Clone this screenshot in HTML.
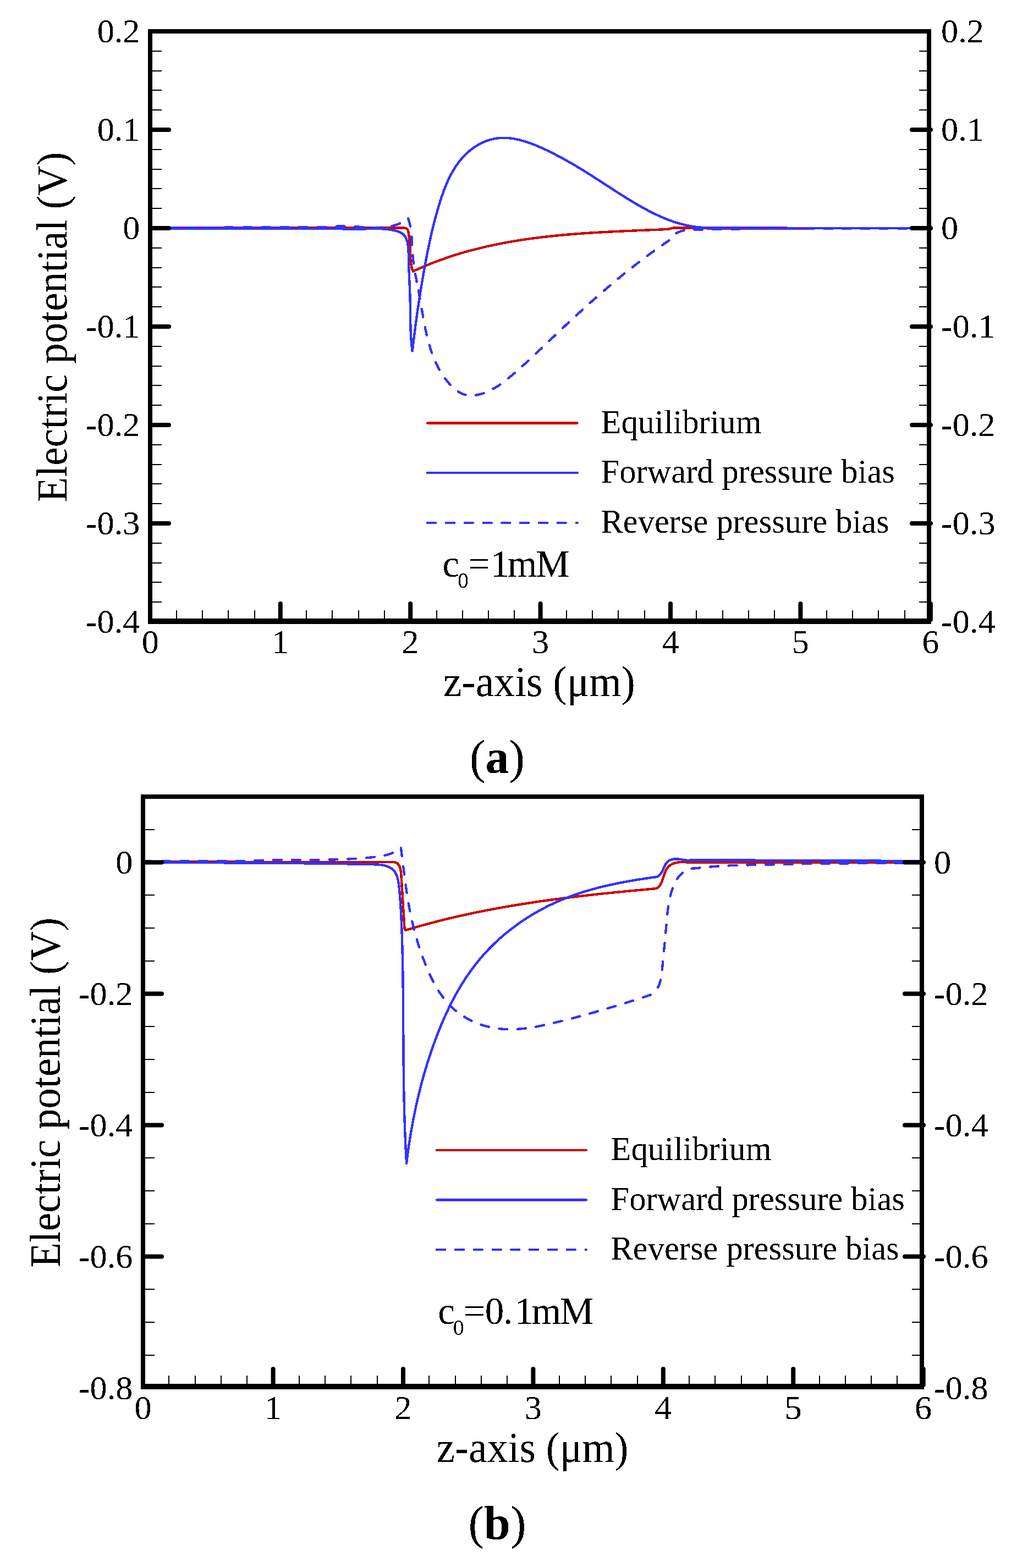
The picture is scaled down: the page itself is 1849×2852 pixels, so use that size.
<!DOCTYPE html>
<html><head><meta charset="utf-8"><title>Electric potential vs z-axis</title>
<style>html,body{margin:0;padding:0;background:#fff;}svg{display:block;}</style>
</head><body>
<svg width="1849" height="2852" viewBox="0 0 1849 2852" font-family="'Liberation Serif', 'Times New Roman', serif">
<defs><clipPath id="ca"><rect x="277" y="61" width="1408" height="1064"/></clipPath><clipPath id="cb"><rect x="264" y="1453" width="1408" height="1064"/></clipPath><filter id="bin" x="0" y="0" width="1849" height="2852" filterUnits="userSpaceOnUse"><feComponentTransfer><feFuncA type="discrete" tableValues="0 1"/></feComponentTransfer></filter></defs>
<rect width="1849" height="2852" fill="#fff"/>
<g clip-path="url(#ca)" fill="none" stroke-width="4.4" stroke-linejoin="round" shape-rendering="crispEdges">
<path d="M273.0 414.6 L736.0 414.7 L737.1 414.9 L738.1 415.2 L739.0 415.6 L739.7 416.1 L740.4 416.8 L740.9 417.5 L741.3 418.3 L741.7 419.2 L742.0 420.1 L742.2 421.0 L742.4 422.0 L742.6 423.1 L742.8 424.1 L742.9 425.1 L743.1 426.1 L743.2 427.1 L743.4 428.1 L743.5 429.2 L743.7 430.2 L743.8 431.2 L743.9 432.2 L744.1 433.2 L744.2 434.3 L744.3 435.3 L744.4 436.3 L744.5 437.3 L744.6 438.3 L744.7 439.4 L744.8 440.4 L744.9 441.4 L745.0 442.4 L745.1 443.4 L745.2 444.5 L745.3 445.5 L745.3 446.5 L745.4 447.5 L745.5 448.5 L745.5 449.6 L745.6 450.6 L745.6 451.6 L745.7 452.6 L745.7 453.7 L745.7 454.7 L745.8 455.7 L745.8 456.8 L745.8 457.8 L745.8 458.8 L745.9 459.9 L745.9 460.9 L745.9 461.9 L745.9 462.9 L746.0 464.0 L746.0 465.0 L746.0 466.0 L746.1 467.1 L746.1 468.1 L746.2 469.1 L746.2 470.1 L746.3 471.1 L746.4 472.2 L746.4 473.2 L746.5 474.2 L746.6 475.2 L746.7 476.2 L746.8 477.2 L747.0 478.2 L747.1 479.2 L747.3 480.2 L747.4 481.2 L747.6 482.2 L747.8 483.1 L748.0 484.1 L748.2 485.1 L748.4 486.0 L748.7 487.0 L749.0 488.0 L749.3 488.9 L749.6 489.9 L749.9 490.8 L750.2 491.7 L750.6 492.7 L751.0 493.6 L751.9 493.2 L752.8 492.7 L753.8 492.3 L754.7 491.9 L755.6 491.5 L756.5 491.0 L757.4 490.6 L758.4 490.2 L759.3 489.8 L760.2 489.4 L761.1 488.9 L762.0 488.5 L763.0 488.1 L763.9 487.7 L764.8 487.3 L765.7 486.9 L766.7 486.5 L767.6 486.1 L768.5 485.7 L769.5 485.3 L770.4 484.9 L771.3 484.5 L772.2 484.1 L773.2 483.7 L774.1 483.3 L775.0 482.9 L776.0 482.6 L776.9 482.2 L777.8 481.8 L778.8 481.4 L779.7 481.0 L780.6 480.6 L781.6 480.3 L782.5 479.9 L783.4 479.5 L784.4 479.1 L785.3 478.8 L786.2 478.4 L787.2 478.0 L788.1 477.7 L789.0 477.3 L790.0 476.9 L790.9 476.6 L791.9 476.2 L792.8 475.9 L793.7 475.5 L794.7 475.2 L795.6 474.8 L796.6 474.5 L797.5 474.1 L798.4 473.8 L799.4 473.4 L800.3 473.1 L801.3 472.7 L802.2 472.4 L803.2 472.0 L804.1 471.7 L805.0 471.4 L806.0 471.0 L806.9 470.7 L807.9 470.4 L808.8 470.0 L809.8 469.7 L810.7 469.4 L811.7 469.0 L812.6 468.7 L813.6 468.4 L814.5 468.1 L815.5 467.8 L816.4 467.4 L817.4 467.1 L818.3 466.8 L819.3 466.5 L820.2 466.2 L821.2 465.9 L822.1 465.6 L823.1 465.3 L824.0 464.9 L825.0 464.6 L825.9 464.3 L826.9 464.0 L827.8 463.7 L828.8 463.4 L829.7 463.1 L830.7 462.8 L831.7 462.5 L832.6 462.2 L833.6 462.0 L834.5 461.7 L835.5 461.4 L836.4 461.1 L837.4 460.8 L838.4 460.5 L839.3 460.2 L840.3 460.0 L841.2 459.7 L842.2 459.4 L843.2 459.1 L844.1 458.8 L845.1 458.6 L846.0 458.3 L847.0 458.0 L848.0 457.7 L848.9 457.5 L849.9 457.2 L850.9 456.9 L851.8 456.7 L852.8 456.4 L853.7 456.1 L854.7 455.9 L855.7 455.6 L856.6 455.4 L857.6 455.1 L858.6 454.8 L859.5 454.6 L860.5 454.3 L861.5 454.1 L862.4 453.8 L863.4 453.6 L864.4 453.3 L865.3 453.1 L866.3 452.8 L867.3 452.6 L868.3 452.4 L869.2 452.1 L870.2 451.9 L871.2 451.6 L872.1 451.4 L873.1 451.2 L874.1 450.9 L875.0 450.7 L876.0 450.5 L877.0 450.2 L878.0 450.0 L878.9 449.8 L879.9 449.5 L880.9 449.3 L881.9 449.1 L882.8 448.9 L883.8 448.6 L884.8 448.4 L885.8 448.2 L886.7 448.0 L887.7 447.8 L888.7 447.5 L889.7 447.3 L890.6 447.1 L891.6 446.9 L892.6 446.7 L893.6 446.5 L894.5 446.3 L895.5 446.0 L896.5 445.8 L897.5 445.6 L898.5 445.4 L899.4 445.2 L900.4 445.0 L901.4 444.8 L902.4 444.6 L903.4 444.4 L904.3 444.2 L905.3 444.0 L906.3 443.8 L907.3 443.6 L908.3 443.4 L909.2 443.2 L910.2 443.1 L911.2 442.9 L912.2 442.7 L913.2 442.5 L914.2 442.3 L915.1 442.1 L916.1 441.9 L917.1 441.7 L918.1 441.6 L919.1 441.4 L920.1 441.2 L921.0 441.0 L922.0 440.8 L923.0 440.7 L924.0 440.5 L925.0 440.3 L926.0 440.1 L927.0 440.0 L928.0 439.8 L928.9 439.6 L929.9 439.4 L930.9 439.3 L931.9 439.1 L932.9 438.9 L933.9 438.8 L934.9 438.6 L935.9 438.4 L936.8 438.3 L937.8 438.1 L938.8 437.9 L939.8 437.8 L940.8 437.6 L941.8 437.5 L942.8 437.3 L943.8 437.2 L944.8 437.0 L945.7 436.8 L946.7 436.7 L947.7 436.5 L948.7 436.4 L949.7 436.2 L950.7 436.1 L951.7 435.9 L952.7 435.8 L953.7 435.6 L954.7 435.5 L955.7 435.4 L956.7 435.2 L957.7 435.1 L958.6 434.9 L959.6 434.8 L960.6 434.6 L961.6 434.5 L962.6 434.4 L963.6 434.2 L964.6 434.1 L965.6 433.9 L966.6 433.8 L967.6 433.7 L968.6 433.5 L969.6 433.4 L970.6 433.3 L971.6 433.1 L972.6 433.0 L973.6 432.9 L974.6 432.8 L975.6 432.6 L976.6 432.5 L977.5 432.4 L978.5 432.3 L979.5 432.1 L980.5 432.0 L981.5 431.9 L982.5 431.8 L983.5 431.6 L984.5 431.5 L985.5 431.4 L986.5 431.3 L987.5 431.2 L988.5 431.0 L989.5 430.9 L990.5 430.8 L991.5 430.7 L992.5 430.6 L993.5 430.5 L994.5 430.4 L995.5 430.3 L996.5 430.1 L997.5 430.0 L998.5 429.9 L999.5 429.8 L1000.5 429.7 L1001.5 429.6 L1002.5 429.5 L1003.5 429.4 L1004.5 429.3 L1005.5 429.2 L1006.5 429.1 L1007.5 429.0 L1008.5 428.9 L1009.5 428.8 L1010.5 428.7 L1011.5 428.6 L1012.5 428.5 L1013.5 428.4 L1014.5 428.3 L1015.5 428.2 L1016.5 428.1 L1017.5 428.0 L1018.5 427.9 L1019.5 427.8 L1020.5 427.7 L1021.5 427.6 L1022.5 427.5 L1023.5 427.4 L1024.5 427.3 L1025.5 427.2 L1026.5 427.1 L1027.5 427.1 L1028.6 427.0 L1029.6 426.9 L1030.6 426.8 L1031.6 426.7 L1032.6 426.6 L1033.6 426.5 L1034.6 426.4 L1035.6 426.4 L1036.6 426.3 L1037.6 426.2 L1038.6 426.1 L1039.6 426.0 L1040.6 425.9 L1041.6 425.9 L1042.6 425.8 L1043.6 425.7 L1044.6 425.6 L1045.6 425.5 L1046.6 425.5 L1047.6 425.4 L1048.6 425.3 L1049.6 425.2 L1050.6 425.2 L1051.6 425.1 L1052.6 425.0 L1053.6 424.9 L1054.6 424.9 L1055.7 424.8 L1056.7 424.7 L1057.7 424.6 L1058.7 424.6 L1059.7 424.5 L1060.7 424.4 L1061.7 424.4 L1062.7 424.3 L1063.7 424.2 L1064.7 424.2 L1065.7 424.1 L1066.7 424.0 L1067.7 423.9 L1068.7 423.9 L1069.7 423.8 L1070.7 423.7 L1071.7 423.7 L1072.7 423.6 L1073.7 423.6 L1074.7 423.5 L1075.8 423.4 L1076.8 423.4 L1077.8 423.3 L1078.8 423.2 L1079.8 423.2 L1080.8 423.1 L1081.8 423.0 L1082.8 423.0 L1083.8 422.9 L1084.8 422.9 L1085.8 422.8 L1086.8 422.7 L1087.8 422.7 L1088.8 422.6 L1089.8 422.6 L1090.8 422.5 L1091.8 422.5 L1092.8 422.4 L1093.8 422.3 L1094.9 422.3 L1095.9 422.2 L1096.9 422.2 L1097.9 422.1 L1098.9 422.1 L1099.9 422.0 L1100.9 422.0 L1101.9 421.9 L1102.9 421.8 L1103.9 421.8 L1104.9 421.7 L1105.9 421.7 L1106.9 421.6 L1107.9 421.6 L1108.9 421.5 L1109.9 421.5 L1110.9 421.4 L1111.9 421.4 L1112.9 421.3 L1113.9 421.3 L1115.0 421.2 L1116.0 421.2 L1117.0 421.1 L1118.0 421.1 L1119.0 421.0 L1120.0 421.0 L1121.0 420.9 L1122.0 420.9 L1123.0 420.8 L1124.0 420.8 L1125.0 420.7 L1126.0 420.7 L1127.0 420.6 L1128.0 420.6 L1129.0 420.5 L1130.0 420.5 L1131.0 420.5 L1132.0 420.4 L1133.0 420.4 L1134.0 420.3 L1135.0 420.3 L1136.0 420.2 L1137.0 420.2 L1138.0 420.1 L1139.0 420.1 L1140.1 420.0 L1141.1 420.0 L1142.1 420.0 L1143.1 419.9 L1144.1 419.9 L1145.1 419.8 L1146.1 419.8 L1147.1 419.7 L1148.1 419.7 L1149.1 419.7 L1150.1 419.6 L1151.1 419.6 L1152.1 419.5 L1153.1 419.5 L1154.1 419.4 L1155.1 419.4 L1156.1 419.4 L1157.1 419.3 L1158.1 419.3 L1159.1 419.2 L1160.1 419.2 L1161.1 419.1 L1162.1 419.1 L1163.1 419.1 L1164.1 419.0 L1165.1 419.0 L1166.1 418.9 L1167.1 418.9 L1168.1 418.9 L1169.1 418.8 L1170.1 418.8 L1171.1 418.7 L1172.1 418.7 L1173.1 418.6 L1174.1 418.6 L1175.1 418.6 L1176.1 418.5 L1177.1 418.5 L1178.1 418.4 L1179.1 418.4 L1180.1 418.4 L1181.1 418.3 L1182.1 418.3 L1183.1 418.2 L1184.1 418.2 L1185.1 418.2 L1186.1 418.1 L1187.1 418.1 L1188.1 418.0 L1189.1 418.0 L1190.1 417.9 L1191.1 417.9 L1192.1 417.9 L1193.1 417.8 L1194.1 417.8 L1195.1 417.7 L1196.1 417.7 L1197.1 417.7 L1198.0 417.6 L1199.0 417.6 L1200.0 417.5 L1201.0 417.5 L1202.0 417.5 L1203.0 417.4 L1204.0 417.4 L1205.0 417.3 L1206.0 417.3 L1207.0 417.2 L1208.0 417.2 L1209.1 417.2 L1210.1 417.2 L1211.2 417.1 L1212.2 417.0 L1213.3 416.8 L1214.3 416.7 L1215.4 416.5 L1216.4 416.3 L1217.5 416.0 L1218.5 415.8 L1219.5 415.6 L1220.6 415.4 L1221.6 415.1 L1222.7 414.9 L1223.7 414.7 L1224.7 414.6 L1225.8 414.4 L1226.8 414.3 L1227.9 414.3 L1229.0 414.3 L1230.0 414.3 L1231.1 414.4 L1232.2 414.5 L1255.5 414.7 L1290.0 415.4 L1689.0 415.2" stroke="#cc0000"/>
<path d="M273.0 415.5 L500.0 415.6 L620.0 416.0 L621.0 416.1 L622.0 416.2 L622.9 416.3 L623.9 416.4 L624.9 416.4 L625.9 416.5 L626.9 416.6 L627.9 416.6 L628.9 416.7 L629.9 416.7 L630.9 416.8 L631.9 416.8 L632.9 416.8 L633.9 416.9 L634.9 416.9 L635.9 416.9 L636.9 416.9 L637.9 416.9 L638.9 416.9 L639.9 416.9 L640.9 416.9 L641.9 416.9 L642.9 416.9 L643.9 416.9 L644.9 416.9 L645.9 416.9 L646.9 416.9 L648.0 416.9 L649.0 416.8 L650.0 416.8 L651.0 416.8 L652.0 416.7 L653.0 416.7 L654.0 416.7 L655.0 416.6 L656.1 416.6 L657.1 416.6 L658.1 416.5 L659.1 416.5 L660.1 416.5 L661.1 416.4 L662.2 416.4 L663.2 416.4 L664.2 416.3 L665.2 416.3 L666.2 416.2 L667.3 416.2 L668.3 416.2 L669.3 416.2 L670.3 416.1 L671.3 416.1 L672.3 416.1 L673.4 416.0 L674.4 416.0 L675.4 416.0 L676.4 416.0 L677.4 416.0 L678.4 415.9 L679.5 415.9 L680.5 415.9 L681.5 415.9 L682.5 415.9 L683.5 415.9 L684.5 415.9 L685.6 415.9 L686.6 416.0 L687.6 416.0 L688.6 416.0 L689.6 416.0 L690.6 416.1 L691.6 416.1 L692.6 416.2 L693.6 416.2 L694.7 416.3 L695.7 416.3 L696.7 416.4 L697.7 416.5 L698.7 416.5 L699.7 416.6 L700.7 416.7 L701.7 416.8 L702.7 416.9 L703.7 417.0 L704.7 417.1 L705.7 417.3 L706.7 417.4 L707.7 417.5 L708.7 417.7 L709.7 417.9 L710.6 418.0 L711.6 418.2 L712.6 418.4 L713.6 418.6 L714.6 418.8 L715.6 419.0 L716.6 419.2 L717.6 419.4 L718.5 419.7 L719.5 419.9 L720.5 420.2 L721.5 420.5 L722.4 420.7 L723.4 421.0 L724.3 421.3 L725.3 421.7 L726.2 422.0 L727.1 422.4 L728.0 422.8 L728.9 423.2 L729.7 423.7 L730.5 424.2 L731.3 424.7 L732.1 425.3 L732.8 425.9 L733.5 426.5 L734.1 427.2 L734.8 427.9 L735.4 428.7 L735.9 429.4 L736.4 430.2 L736.9 431.1 L737.4 431.9 L737.8 432.8 L738.2 433.7 L738.6 434.6 L739.0 435.5 L739.3 436.4 L739.6 437.4 L739.9 438.3 L740.2 439.2 L740.5 440.2 L740.7 441.2 L740.9 442.1 L741.1 443.1 L741.3 444.1 L741.5 445.1 L741.6 446.1 L741.8 447.1 L741.9 448.1 L742.0 449.1 L742.1 450.1 L742.2 451.2 L742.3 452.2 L742.4 453.2 L742.4 454.2 L742.5 455.3 L742.6 456.3 L742.6 457.3 L742.6 458.4 L742.7 459.4 L742.7 460.4 L742.7 461.5 L742.7 462.5 L742.7 463.6 L742.8 464.6 L742.8 465.6 L742.8 466.7 L742.8 467.7 L742.8 468.8 L742.8 469.8 L742.8 470.8 L742.9 471.9 L742.9 472.9 L742.9 473.9 L742.9 474.9 L743.0 476.0 L743.0 477.0 L743.0 478.0 L743.0 479.0 L743.1 480.0 L743.1 481.1 L743.1 482.1 L743.2 483.1 L743.2 484.1 L743.2 485.1 L743.3 486.1 L743.3 487.1 L743.3 488.2 L743.4 489.2 L743.4 490.2 L743.4 491.2 L743.5 492.2 L743.5 493.2 L743.6 494.2 L743.6 495.2 L743.7 496.2 L743.7 497.2 L743.7 498.2 L743.8 499.2 L743.8 500.2 L743.9 501.2 L743.9 502.2 L744.0 503.2 L744.0 504.2 L744.1 505.2 L744.1 506.2 L744.1 507.2 L744.2 508.2 L744.2 509.2 L744.3 510.2 L744.3 511.2 L744.4 512.1 L744.4 513.1 L744.5 514.1 L744.5 515.1 L744.6 516.1 L744.6 517.1 L744.6 518.1 L744.7 519.1 L744.7 520.1 L744.8 521.1 L744.8 522.1 L744.9 523.1 L744.9 524.1 L744.9 525.1 L745.0 526.0 L745.0 527.0 L745.1 528.0 L745.1 529.0 L745.1 530.0 L745.2 531.0 L745.2 532.0 L745.2 533.0 L745.3 534.0 L745.3 535.0 L745.3 536.0 L745.4 537.0 L745.4 538.0 L745.4 539.0 L745.5 540.0 L745.5 541.0 L745.5 542.0 L745.5 543.0 L745.6 544.0 L745.6 545.0 L745.6 546.0 L745.6 547.0 L745.6 548.0 L745.7 549.0 L745.7 550.0 L745.7 551.0 L745.7 552.0 L745.7 553.0 L745.7 554.0 L745.7 555.0 L745.8 556.0 L745.8 557.0 L745.8 558.0 L745.8 559.0 L745.8 560.1 L745.8 561.1 L745.8 562.1 L745.8 563.1 L745.9 564.1 L745.9 565.1 L745.9 566.1 L745.9 567.1 L745.9 568.1 L745.9 569.1 L745.9 570.1 L745.9 571.2 L745.9 572.2 L746.0 573.2 L746.0 574.2 L746.0 575.2 L746.0 576.2 L746.0 577.2 L746.0 578.2 L746.0 579.2 L746.1 580.3 L746.1 581.3 L746.1 582.3 L746.1 583.3 L746.1 584.3 L746.1 585.3 L746.2 586.3 L746.2 587.3 L746.2 588.4 L746.2 589.4 L746.3 590.4 L746.3 591.4 L746.3 592.4 L746.3 593.4 L746.4 594.4 L746.4 595.4 L746.4 596.4 L746.5 597.5 L746.5 598.5 L746.5 599.5 L746.6 600.5 L746.6 601.5 L746.7 602.5 L746.7 603.5 L746.7 604.5 L746.8 605.5 L746.8 606.5 L746.9 607.5 L746.9 608.5 L747.0 609.6 L747.1 610.6 L747.1 611.6 L747.2 612.6 L747.2 613.6 L747.3 614.6 L747.4 615.6 L747.4 616.6 L747.5 617.6 L747.6 618.6 L747.7 619.6 L747.8 620.6 L747.8 621.6 L747.9 622.6 L748.0 623.6 L748.1 624.6 L748.2 625.6 L748.3 626.6 L748.4 627.6 L748.5 628.6 L748.6 629.6 L748.7 630.6 L748.8 631.6 L748.9 632.6 L749.1 633.5 L749.2 634.5 L749.3 635.5 L749.4 636.5 L749.6 637.5 L749.7 638.5 L749.8 637.5 L749.9 636.5 L750.0 635.6 L750.2 634.6 L750.3 633.6 L750.4 632.6 L750.5 631.6 L750.6 630.7 L750.7 629.7 L750.9 628.7 L751.0 627.7 L751.1 626.7 L751.2 625.8 L751.3 624.8 L751.4 623.8 L751.6 622.8 L751.7 621.8 L751.8 620.8 L751.9 619.8 L752.0 618.9 L752.2 617.9 L752.3 616.9 L752.4 615.9 L752.5 614.9 L752.7 613.9 L752.8 612.9 L752.9 611.9 L753.0 611.0 L753.2 610.0 L753.3 609.0 L753.4 608.0 L753.5 607.0 L753.7 606.0 L753.8 605.0 L753.9 604.0 L754.0 603.0 L754.2 602.0 L754.3 601.0 L754.4 600.1 L754.6 599.1 L754.7 598.1 L754.8 597.1 L754.9 596.1 L755.1 595.1 L755.2 594.1 L755.3 593.1 L755.5 592.1 L755.6 591.1 L755.7 590.1 L755.9 589.1 L756.0 588.1 L756.1 587.1 L756.3 586.1 L756.4 585.1 L756.5 584.1 L756.7 583.1 L756.8 582.1 L757.0 581.1 L757.1 580.1 L757.2 579.1 L757.4 578.1 L757.5 577.1 L757.6 576.2 L757.8 575.2 L757.9 574.2 L758.1 573.2 L758.2 572.2 L758.3 571.2 L758.5 570.2 L758.6 569.2 L758.8 568.2 L758.9 567.2 L759.1 566.2 L759.2 565.2 L759.3 564.2 L759.5 563.2 L759.6 562.2 L759.8 561.2 L759.9 560.2 L760.1 559.2 L760.2 558.2 L760.4 557.2 L760.5 556.2 L760.7 555.2 L760.8 554.2 L761.0 553.2 L761.1 552.2 L761.2 551.2 L761.4 550.2 L761.5 549.2 L761.7 548.2 L761.9 547.2 L762.0 546.2 L762.2 545.2 L762.3 544.2 L762.5 543.2 L762.6 542.2 L762.8 541.2 L762.9 540.2 L763.1 539.2 L763.2 538.2 L763.4 537.2 L763.5 536.2 L763.7 535.2 L763.9 534.2 L764.0 533.2 L764.2 532.2 L764.3 531.2 L764.5 530.2 L764.6 529.2 L764.8 528.2 L765.0 527.2 L765.1 526.2 L765.3 525.2 L765.4 524.2 L765.6 523.2 L765.8 522.2 L765.9 521.2 L766.1 520.2 L766.3 519.3 L766.4 518.3 L766.6 517.3 L766.8 516.3 L766.9 515.3 L767.1 514.3 L767.3 513.3 L767.4 512.3 L767.6 511.3 L767.8 510.3 L767.9 509.3 L768.1 508.3 L768.3 507.3 L768.4 506.3 L768.6 505.3 L768.8 504.4 L768.9 503.4 L769.1 502.4 L769.3 501.4 L769.5 500.4 L769.6 499.4 L769.8 498.4 L770.0 497.4 L770.1 496.4 L770.3 495.5 L770.5 494.5 L770.7 493.5 L770.8 492.5 L771.0 491.5 L771.2 490.5 L771.4 489.5 L771.6 488.6 L771.7 487.6 L771.9 486.6 L772.1 485.6 L772.3 484.6 L772.4 483.6 L772.6 482.7 L772.8 481.7 L773.0 480.7 L773.2 479.7 L773.4 478.7 L773.5 477.7 L773.7 476.8 L773.9 475.8 L774.1 474.8 L774.3 473.8 L774.5 472.9 L774.6 471.9 L774.8 470.9 L775.0 469.9 L775.2 469.0 L775.4 468.0 L775.6 467.0 L775.8 466.0 L775.9 465.1 L776.1 464.1 L776.3 463.1 L776.5 462.1 L776.7 461.2 L776.9 460.2 L777.1 459.2 L777.3 458.3 L777.5 457.3 L777.7 456.3 L777.9 455.4 L778.1 454.4 L778.3 453.4 L778.5 452.4 L778.7 451.5 L778.9 450.5 L779.1 449.5 L779.3 448.6 L779.5 447.6 L779.7 446.6 L779.9 445.7 L780.1 444.7 L780.3 443.7 L780.5 442.8 L780.7 441.8 L780.9 440.9 L781.1 439.9 L781.3 438.9 L781.5 438.0 L781.7 437.0 L781.9 436.0 L782.1 435.1 L782.4 434.1 L782.6 433.1 L782.8 432.2 L783.0 431.2 L783.2 430.3 L783.4 429.3 L783.6 428.3 L783.9 427.4 L784.1 426.4 L784.3 425.4 L784.5 424.5 L784.8 423.5 L785.0 422.6 L785.2 421.6 L785.4 420.6 L785.7 419.7 L785.9 418.7 L786.1 417.7 L786.4 416.8 L786.6 415.8 L786.8 414.9 L787.1 413.9 L787.3 412.9 L787.5 412.0 L787.8 411.0 L788.0 410.0 L788.2 409.1 L788.5 408.1 L788.7 407.2 L789.0 406.2 L789.2 405.2 L789.5 404.3 L789.7 403.3 L790.0 402.3 L790.2 401.4 L790.5 400.4 L790.7 399.4 L791.0 398.5 L791.2 397.5 L791.5 396.6 L791.7 395.6 L792.0 394.6 L792.3 393.7 L792.5 392.7 L792.8 391.7 L793.1 390.8 L793.3 389.8 L793.6 388.8 L793.9 387.9 L794.1 386.9 L794.4 385.9 L794.7 385.0 L795.0 384.0 L795.2 383.0 L795.5 382.0 L795.8 381.1 L796.1 380.1 L796.4 379.1 L796.7 378.2 L796.9 377.2 L797.2 376.2 L797.5 375.3 L797.8 374.3 L798.1 373.3 L798.4 372.3 L798.7 371.4 L799.0 370.4 L799.3 369.4 L799.6 368.4 L799.9 367.5 L800.2 366.5 L800.5 365.5 L800.8 364.5 L801.2 363.6 L801.5 362.6 L801.8 361.6 L802.1 360.7 L802.4 359.7 L802.8 358.7 L803.1 357.7 L803.4 356.8 L803.7 355.8 L804.1 354.8 L804.4 353.9 L804.8 352.9 L805.1 351.9 L805.4 351.0 L805.8 350.0 L806.1 349.0 L806.5 348.1 L806.8 347.1 L807.2 346.2 L807.6 345.2 L807.9 344.2 L808.3 343.3 L808.7 342.3 L809.0 341.4 L809.4 340.4 L809.8 339.5 L810.2 338.5 L810.6 337.6 L811.0 336.6 L811.4 335.7 L811.7 334.8 L812.1 333.8 L812.6 332.9 L813.0 331.9 L813.4 331.0 L813.8 330.1 L814.2 329.2 L814.6 328.2 L815.0 327.3 L815.5 326.4 L815.9 325.5 L816.3 324.6 L816.8 323.6 L817.2 322.7 L817.7 321.8 L818.1 320.9 L818.6 320.0 L819.1 319.1 L819.5 318.2 L820.0 317.3 L820.5 316.4 L820.9 315.6 L821.4 314.7 L821.9 313.8 L822.4 312.9 L822.9 312.0 L823.4 311.2 L823.9 310.3 L824.4 309.4 L824.9 308.6 L825.4 307.7 L826.0 306.9 L826.5 306.0 L827.0 305.2 L827.6 304.3 L828.1 303.5 L828.7 302.7 L829.2 301.8 L829.8 301.0 L830.3 300.2 L830.9 299.4 L831.5 298.6 L832.0 297.8 L832.6 297.0 L833.2 296.2 L833.8 295.4 L834.4 294.6 L835.0 293.8 L835.6 293.0 L836.2 292.2 L836.9 291.5 L837.5 290.7 L838.1 289.9 L838.8 289.2 L839.4 288.4 L840.0 287.7 L840.7 286.9 L841.4 286.2 L842.0 285.5 L842.7 284.7 L843.4 284.0 L844.1 283.3 L844.8 282.6 L845.5 281.9 L846.2 281.2 L846.9 280.5 L847.6 279.8 L848.3 279.1 L849.0 278.4 L849.8 277.8 L850.5 277.1 L851.3 276.4 L852.0 275.8 L852.8 275.1 L853.5 274.5 L854.3 273.9 L855.1 273.2 L855.9 272.6 L856.6 272.0 L857.4 271.4 L858.2 270.8 L859.0 270.2 L859.8 269.6 L860.7 269.1 L861.5 268.5 L862.3 267.9 L863.1 267.4 L864.0 266.8 L864.8 266.3 L865.6 265.7 L866.5 265.2 L867.3 264.7 L868.2 264.2 L869.1 263.7 L869.9 263.2 L870.8 262.7 L871.7 262.2 L872.5 261.8 L873.4 261.3 L874.3 260.8 L875.2 260.4 L876.1 260.0 L877.0 259.5 L877.9 259.1 L878.8 258.7 L879.7 258.3 L880.6 257.9 L881.5 257.5 L882.4 257.2 L883.3 256.8 L884.2 256.5 L885.1 256.1 L886.1 255.8 L887.0 255.5 L887.9 255.2 L888.9 254.9 L889.8 254.6 L890.7 254.3 L891.7 254.0 L892.6 253.8 L893.5 253.5 L894.5 253.3 L895.4 253.0 L896.4 252.8 L897.3 252.6 L898.3 252.4 L899.2 252.2 L900.2 252.1 L901.1 251.9 L902.1 251.7 L903.0 251.6 L904.0 251.5 L905.0 251.4 L905.9 251.3 L906.9 251.2 L907.8 251.1 L908.8 251.0 L909.8 250.9 L910.7 250.9 L911.7 250.8 L912.7 250.8 L913.6 250.8 L914.6 250.7 L915.6 250.7 L916.5 250.7 L917.5 250.8 L918.5 250.8 L919.4 250.8 L920.4 250.9 L921.4 250.9 L922.4 251.0 L923.3 251.0 L924.3 251.1 L925.3 251.2 L926.3 251.3 L927.2 251.4 L928.2 251.5 L929.2 251.6 L930.2 251.8 L931.1 251.9 L932.1 252.0 L933.1 252.2 L934.1 252.3 L935.1 252.5 L936.0 252.7 L937.0 252.9 L938.0 253.1 L939.0 253.3 L939.9 253.5 L940.9 253.7 L941.9 253.9 L942.9 254.1 L943.9 254.3 L944.8 254.6 L945.8 254.8 L946.8 255.1 L947.8 255.3 L948.7 255.6 L949.7 255.9 L950.7 256.1 L951.7 256.4 L952.7 256.7 L953.6 257.0 L954.6 257.3 L955.6 257.6 L956.5 257.9 L957.5 258.2 L958.5 258.6 L959.5 258.9 L960.4 259.2 L961.4 259.5 L962.4 259.9 L963.3 260.2 L964.3 260.6 L965.3 260.9 L966.3 261.3 L967.2 261.7 L968.2 262.0 L969.1 262.4 L970.1 262.8 L971.1 263.2 L972.0 263.5 L973.0 263.9 L974.0 264.3 L974.9 264.7 L975.9 265.1 L976.8 265.5 L977.8 265.9 L978.7 266.3 L979.7 266.7 L980.6 267.1 L981.6 267.6 L982.5 268.0 L983.5 268.4 L984.4 268.8 L985.4 269.3 L986.3 269.7 L987.2 270.1 L988.2 270.5 L989.1 271.0 L990.1 271.4 L991.0 271.9 L991.9 272.3 L992.9 272.7 L993.8 273.2 L994.7 273.6 L995.6 274.1 L996.6 274.5 L997.5 275.0 L998.4 275.4 L999.3 275.9 L1000.2 276.3 L1001.1 276.8 L1002.1 277.2 L1003.0 277.7 L1003.9 278.1 L1004.8 278.6 L1005.7 279.1 L1006.6 279.5 L1007.5 280.0 L1008.4 280.4 L1009.3 280.9 L1010.2 281.4 L1011.1 281.8 L1012.0 282.3 L1012.9 282.8 L1013.8 283.2 L1014.7 283.7 L1015.6 284.2 L1016.4 284.6 L1017.3 285.1 L1018.2 285.6 L1019.1 286.1 L1020.0 286.5 L1020.9 287.0 L1021.7 287.5 L1022.6 288.0 L1023.5 288.4 L1024.4 288.9 L1025.3 289.4 L1026.1 289.9 L1027.0 290.4 L1027.9 290.9 L1028.7 291.3 L1029.6 291.8 L1030.5 292.3 L1031.3 292.8 L1032.2 293.3 L1033.1 293.8 L1033.9 294.3 L1034.8 294.8 L1035.7 295.3 L1036.5 295.7 L1037.4 296.2 L1038.2 296.7 L1039.1 297.2 L1039.9 297.7 L1040.8 298.2 L1041.7 298.7 L1042.5 299.2 L1043.4 299.7 L1044.2 300.2 L1045.1 300.7 L1045.9 301.2 L1046.8 301.7 L1047.6 302.2 L1048.5 302.8 L1049.3 303.3 L1050.2 303.8 L1051.0 304.3 L1051.8 304.8 L1052.7 305.3 L1053.5 305.8 L1054.4 306.3 L1055.2 306.8 L1056.1 307.3 L1056.9 307.9 L1057.8 308.4 L1058.6 308.9 L1059.4 309.4 L1060.3 309.9 L1061.1 310.4 L1061.9 310.9 L1062.8 311.5 L1063.6 312.0 L1064.5 312.5 L1065.3 313.0 L1066.1 313.5 L1067.0 314.1 L1067.8 314.6 L1068.6 315.1 L1069.5 315.6 L1070.3 316.2 L1071.2 316.7 L1072.0 317.2 L1072.8 317.7 L1073.7 318.3 L1074.5 318.8 L1075.3 319.3 L1076.2 319.9 L1077.0 320.4 L1077.8 320.9 L1078.7 321.5 L1079.5 322.0 L1080.3 322.5 L1081.2 323.0 L1082.0 323.6 L1082.8 324.1 L1083.7 324.7 L1084.5 325.2 L1085.3 325.7 L1086.2 326.3 L1087.0 326.8 L1087.8 327.3 L1088.7 327.9 L1089.5 328.4 L1090.3 329.0 L1091.2 329.5 L1092.0 330.0 L1092.9 330.6 L1093.7 331.1 L1094.5 331.7 L1095.4 332.2 L1096.2 332.7 L1097.0 333.3 L1097.9 333.8 L1098.7 334.4 L1099.6 334.9 L1100.4 335.5 L1101.2 336.0 L1102.1 336.6 L1102.9 337.1 L1103.8 337.7 L1104.6 338.2 L1105.4 338.7 L1106.3 339.3 L1107.1 339.8 L1108.0 340.4 L1108.8 340.9 L1109.7 341.5 L1110.5 342.0 L1111.3 342.6 L1112.2 343.1 L1113.0 343.7 L1113.9 344.2 L1114.7 344.8 L1115.6 345.3 L1116.4 345.9 L1117.3 346.4 L1118.1 347.0 L1119.0 347.5 L1119.8 348.1 L1120.7 348.6 L1121.5 349.2 L1122.4 349.7 L1123.2 350.3 L1124.1 350.8 L1124.9 351.4 L1125.8 351.9 L1126.6 352.5 L1127.5 353.0 L1128.4 353.5 L1129.2 354.1 L1130.1 354.6 L1130.9 355.2 L1131.8 355.7 L1132.6 356.3 L1133.5 356.8 L1134.4 357.3 L1135.2 357.9 L1136.1 358.4 L1136.9 359.0 L1137.8 359.5 L1138.7 360.0 L1139.5 360.6 L1140.4 361.1 L1141.2 361.6 L1142.1 362.2 L1143.0 362.7 L1143.8 363.2 L1144.7 363.8 L1145.6 364.3 L1146.4 364.8 L1147.3 365.3 L1148.2 365.9 L1149.0 366.4 L1149.9 366.9 L1150.8 367.4 L1151.6 368.0 L1152.5 368.5 L1153.4 369.0 L1154.3 369.5 L1155.1 370.0 L1156.0 370.5 L1156.9 371.1 L1157.8 371.6 L1158.6 372.1 L1159.5 372.6 L1160.4 373.1 L1161.3 373.6 L1162.1 374.1 L1163.0 374.6 L1163.9 375.1 L1164.8 375.6 L1165.7 376.1 L1166.5 376.6 L1167.4 377.1 L1168.3 377.6 L1169.2 378.1 L1170.1 378.5 L1170.9 379.0 L1171.8 379.5 L1172.7 380.0 L1173.6 380.5 L1174.5 381.0 L1175.4 381.4 L1176.3 381.9 L1177.2 382.4 L1178.0 382.8 L1178.9 383.3 L1179.8 383.8 L1180.7 384.2 L1181.6 384.7 L1182.5 385.1 L1183.4 385.6 L1184.3 386.1 L1185.2 386.5 L1186.1 387.0 L1187.0 387.4 L1187.9 387.8 L1188.8 388.3 L1189.7 388.7 L1190.6 389.2 L1191.5 389.6 L1192.4 390.0 L1193.3 390.4 L1194.2 390.9 L1195.1 391.3 L1196.0 391.7 L1196.9 392.1 L1197.8 392.5 L1198.7 392.9 L1199.6 393.4 L1200.5 393.8 L1201.4 394.2 L1202.3 394.6 L1203.2 395.0 L1204.1 395.3 L1205.0 395.7 L1206.0 396.1 L1206.9 396.5 L1207.8 396.9 L1208.7 397.3 L1209.6 397.6 L1210.5 398.0 L1211.4 398.4 L1212.4 398.7 L1213.3 399.1 L1214.2 399.5 L1215.1 399.8 L1216.0 400.2 L1217.0 400.5 L1217.9 400.9 L1218.8 401.2 L1219.7 401.5 L1220.6 401.9 L1221.6 402.2 L1222.5 402.5 L1223.4 402.8 L1224.4 403.2 L1225.3 403.5 L1226.2 403.8 L1227.2 404.1 L1228.1 404.4 L1229.0 404.7 L1230.0 405.0 L1230.9 405.3 L1231.8 405.6 L1232.8 405.8 L1233.7 406.1 L1234.7 406.4 L1235.6 406.7 L1236.5 406.9 L1237.5 407.2 L1238.4 407.4 L1239.4 407.7 L1240.3 407.9 L1241.3 408.2 L1242.2 408.4 L1243.2 408.7 L1244.1 408.9 L1245.1 409.1 L1246.0 409.3 L1247.0 409.6 L1247.9 409.8 L1248.9 410.0 L1249.9 410.2 L1250.8 410.4 L1251.8 410.6 L1252.8 410.8 L1253.7 411.0 L1254.7 411.1 L1255.7 411.3 L1256.6 411.5 L1257.6 411.6 L1258.6 411.8 L1259.5 412.0 L1260.5 412.1 L1261.5 412.2 L1262.5 412.4 L1263.5 412.5 L1264.4 412.6 L1265.4 412.8 L1266.4 412.9 L1267.4 413.0 L1268.4 413.1 L1269.4 413.2 L1270.4 413.3 L1271.3 413.4 L1272.3 413.5 L1273.3 413.6 L1274.3 413.7 L1275.3 413.7 L1276.3 413.8 L1277.3 413.9 L1278.3 414.0 L1279.3 414.0 L1280.3 414.1 L1281.3 414.1 L1282.3 414.2 L1283.3 414.2 L1284.3 414.3 L1285.3 414.3 L1286.3 414.4 L1287.3 414.4 L1288.3 414.4 L1289.3 414.5 L1290.4 414.5 L1291.4 414.5 L1292.4 414.5 L1293.4 414.5 L1294.4 414.6 L1295.4 414.6 L1296.4 414.6 L1297.4 414.6 L1298.4 414.6 L1299.5 414.6 L1300.5 414.6 L1301.5 414.6 L1302.5 414.6 L1303.5 414.6 L1304.5 414.6 L1305.5 414.6 L1306.6 414.6 L1307.6 414.6 L1308.6 414.6 L1309.6 414.6 L1310.6 414.6 L1311.6 414.5 L1312.7 414.5 L1313.7 414.5 L1314.7 414.5 L1315.7 414.5 L1316.7 414.5 L1317.7 414.5 L1318.7 414.4 L1319.8 414.4 L1320.8 414.4 L1321.8 414.4 L1322.8 414.4 L1323.8 414.4 L1324.8 414.3 L1325.9 414.3 L1326.9 414.3 L1327.9 414.3 L1328.9 414.3 L1329.9 414.3 L1330.9 414.3 L1331.9 414.3 L1332.9 414.2 L1333.9 414.2 L1335.0 414.2 L1336.0 414.2 L1337.0 414.2 L1338.0 414.2 L1339.0 414.2 L1340.0 414.2 L1341.0 414.2 L1342.0 414.2 L1343.0 414.2 L1344.0 414.2 L1345.0 414.2 L1346.0 414.2 L1347.0 414.2 L1348.0 414.3 L1349.0 414.3 L1350.0 414.3 L1450.0 414.8 L1689.0 415.0" stroke="#3333ff"/>
<path d="M273.0 414.0 L450.0 413.6 L600.0 413.0 L601.0 412.9 L601.9 412.7 L602.9 412.6 L603.8 412.5 L604.8 412.4 L605.8 412.2 L606.8 412.1 L607.7 412.1 L608.7 412.0 L609.7 411.9 L610.7 411.8 L611.7 411.8 L612.7 411.7 L613.7 411.6 L614.6 411.6 L615.6 411.6 L616.6 411.5 L617.6 411.5 L618.6 411.5 L619.6 411.4 L620.6 411.4 L621.7 411.4 L622.7 411.4 L623.7 411.4 L624.7 411.4 L625.7 411.4 L626.7 411.4 L627.7 411.5 L628.8 411.5 L629.8 411.5 L630.8 411.5 L631.8 411.6 L632.9 411.6 L633.9 411.6 L634.9 411.7 L635.9 411.7 L637.0 411.8 L638.0 411.8 L639.0 411.9 L640.1 411.9 L641.1 412.0 L642.1 412.0 L643.2 412.1 L644.2 412.2 L645.2 412.2 L646.3 412.3 L647.3 412.3 L648.3 412.4 L649.4 412.5 L650.4 412.5 L651.5 412.6 L652.5 412.7 L653.5 412.7 L654.6 412.8 L655.6 412.9 L656.7 412.9 L657.7 413.0 L658.7 413.1 L659.8 413.1 L660.8 413.2 L661.9 413.2 L662.9 413.3 L664.0 413.4 L665.0 413.4 L666.0 413.5 L667.1 413.5 L668.1 413.6 L669.1 413.6 L670.2 413.6 L671.2 413.7 L672.3 413.7 L673.3 413.8 L674.3 413.8 L675.4 413.8 L676.4 413.8 L677.4 413.9 L678.5 413.9 L679.5 413.9 L680.5 413.9 L681.5 413.9 L682.6 413.9 L683.6 413.9 L684.6 413.9 L685.6 413.9 L686.7 413.9 L687.7 413.8 L688.7 413.8 L689.7 413.8 L690.7 413.7 L691.7 413.7 L692.8 413.6 L693.8 413.6 L694.8 413.5 L695.8 413.4 L696.8 413.3 L697.8 413.2 L698.8 413.2 L699.8 413.1 L700.8 412.9 L701.8 412.8 L702.8 412.7 L703.7 412.6 L704.7 412.4 L705.7 412.3 L706.7 412.1 L707.7 412.0 L708.7 411.8 L709.6 411.6 L710.6 411.4 L711.6 411.2 L712.5 411.0 L713.5 410.8 L714.5 410.6 L715.4 410.3 L716.4 410.1 L717.3 409.8 L718.3 409.5 L719.2 409.3 L720.2 409.0 L721.1 408.7 L722.0 408.4 L723.0 408.0 L723.9 407.7 L724.8 407.3 L725.7 407.0 L726.6 406.6 L727.5 406.2 L728.4 405.8 L729.3 405.4 L730.2 404.9 L731.1 404.4 L731.9 404.0 L732.8 403.5 L733.7 402.9 L734.5 402.4 L735.3 401.8 L736.1 401.3 L736.9 400.6 L737.7 400.0 L738.5 399.4 L739.3 398.7 L740.0 398.0 L740.8 397.3 L741.5 396.5 L741.9 397.4 L742.2 398.3 L742.6 399.2 L742.9 400.1 L743.2 401.1 L743.5 402.0 L743.8 402.9 L744.1 403.8 L744.4 404.8 L744.6 405.7 L744.9 406.7 L745.1 407.6 L745.4 408.6 L745.6 409.5 L745.8 410.5 L746.0 411.5 L746.2 412.4 L746.4 413.4 L746.6 414.4 L746.7 415.4 L746.9 416.4 L747.0 417.3 L747.2 418.3 L747.3 419.3 L747.4 420.3 L747.6 421.3 L747.7 422.3 L747.8 423.3 L747.9 424.3 L748.0 425.3 L748.1 426.3 L748.2 427.3 L748.3 428.4 L748.4 429.4 L748.4 430.4 L748.5 431.4 L748.6 432.4 L748.6 433.4 L748.7 434.5 L748.8 435.5 L748.8 436.5 L748.9 437.5 L748.9 438.5 L749.0 439.6 L749.0 440.6 L749.1 441.6 L749.1 442.6 L749.2 443.7 L749.2 444.7 L749.2 445.7 L749.3 446.7 L749.3 447.8 L749.4 448.8 L749.4 449.8 L749.5 450.8 L749.5 451.8 L749.6 452.9 L749.6 453.9 L749.7 454.9 L749.7 455.9 L749.8 456.9 L749.9 457.9 L749.9 459.0 L750.0 460.0 L750.1 461.0 L750.1 462.0 L750.2 463.0 L750.3 464.0 L750.4 465.0 L750.5 466.0 L750.6 467.0 L750.7 468.0 L750.8 469.0 L750.9 470.0 L751.0 471.0 L751.1 472.0 L751.2 473.0 L751.3 473.9 L751.5 474.9 L751.6 475.9 L751.7 476.9 L751.8 477.9 L752.0 478.9 L752.1 479.8 L752.2 480.8 L752.4 481.8 L752.5 482.8 L752.7 483.8 L752.8 484.7 L753.0 485.7 L753.1 486.7 L753.3 487.7 L753.4 488.6 L753.6 489.6 L753.7 490.6 L753.9 491.5 L754.1 492.5 L754.2 493.5 L754.4 494.5 L754.6 495.4 L754.7 496.4 L754.9 497.4 L755.1 498.3 L755.2 499.3 L755.4 500.3 L755.6 501.2 L755.8 502.2 L756.0 503.2 L756.1 504.1 L756.3 505.1 L756.5 506.1 L756.7 507.0 L756.9 508.0 L757.0 508.9 L757.2 509.9 L757.4 510.9 L757.6 511.8 L757.8 512.8 L758.0 513.8 L758.2 514.7 L758.4 515.7 L758.5 516.7 L758.7 517.6 L758.9 518.6 L759.1 519.6 L759.3 520.6 L759.5 521.5 L759.7 522.5 L759.9 523.5 L760.1 524.4" stroke="#3333ff" stroke-dasharray="15 18.85" stroke-dashoffset="0.00" stroke-linecap="round"/>
<path d="M760.1 524.4 L760.2 525.4 L760.4 526.4 L760.6 527.4 L760.8 528.3 L761.0 529.3 L761.2 530.3 L761.4 531.3 L761.5 532.2 L761.7 533.2 L761.9 534.2 L762.1 535.2 L762.3 536.2 L762.5 537.2 L762.6 538.1 L762.8 539.1 L763.0 540.1 L763.2 541.1 L763.3 542.1 L763.5 543.1 L763.7 544.1 L763.9 545.1 L764.0 546.1 L764.2 547.1 L764.4 548.1 L764.6 549.1 L764.7 550.0 L764.9 551.0 L765.1 552.0 L765.2 553.0 L765.4 554.0 L765.6 555.0 L765.8 556.0 L765.9 557.0 L766.1 558.0 L766.3 559.0 L766.4 560.0 L766.6 561.0 L766.8 562.1 L767.0 563.1 L767.1 564.1 L767.3 565.1 L767.5 566.1 L767.6 567.1 L767.8 568.1 L768.0 569.1 L768.2 570.1 L768.3 571.1 L768.5 572.1 L768.7 573.1 L768.9 574.1 L769.0 575.1 L769.2 576.1 L769.4 577.1 L769.6 578.1 L769.8 579.1 L769.9 580.1 L770.1 581.2 L770.3 582.2 L770.5 583.2 L770.7 584.2 L770.9 585.2 L771.1 586.2 L771.3 587.2 L771.4 588.2 L771.6 589.2 L771.8 590.2 L772.0 591.2 L772.2 592.2 L772.4 593.2 L772.6 594.2 L772.8 595.2 L773.0 596.2 L773.2 597.2 L773.4 598.2 L773.7 599.2 L773.9 600.2 L774.1 601.2 L774.3 602.2 L774.5 603.2 L774.7 604.2 L775.0 605.2 L775.2 606.2 L775.4 607.2 L775.6 608.2 L775.9 609.2 L776.1 610.1 L776.3 611.1 L776.6 612.1 L776.8 613.1 L777.0 614.1 L777.3 615.1 L777.5 616.1 L777.8 617.0 L778.0 618.0 L778.3 619.0 L778.6 620.0 L778.8 621.0 L779.1 621.9 L779.3 622.9 L779.6 623.9 L779.9 624.9 L780.2 625.8 L780.4 626.8 L780.7 627.8 L781.0 628.7 L781.3 629.7 L781.6 630.7 L781.9 631.6 L782.2 632.6 L782.5 633.6 L782.8 634.5 L783.1 635.5 L783.4 636.4 L783.7 637.4 L784.0 638.3 L784.4 639.3 L784.7 640.2 L785.0 641.2 L785.3 642.1 L785.7 643.1 L786.0 644.0 L786.4 644.9 L786.7 645.9 L787.1 646.8 L787.4 647.8 L787.8 648.7 L788.1 649.6 L788.5 650.5 L788.9 651.5 L789.3 652.4 L789.6 653.3 L790.0 654.2 L790.4 655.1 L790.8 656.1 L791.2 657.0 L791.6 657.9 L792.0 658.8 L792.4 659.7 L792.9 660.6 L793.3 661.5 L793.7 662.4 L794.1 663.3 L794.6 664.2 L795.0 665.1 L795.5 665.9 L795.9 666.8 L796.4 667.7 L796.8 668.6 L797.3 669.5 L797.8 670.3 L798.2 671.2 L798.7 672.1 L799.2 672.9 L799.7 673.8 L800.2 674.7 L800.7 675.5 L801.2 676.4 L801.7 677.2 L802.3 678.1 L802.8 678.9 L803.3 679.8 L803.8 680.6 L804.4 681.4 L804.9 682.3 L805.5 683.1 L806.0 683.9 L806.6 684.8 L807.2 685.6 L807.8 686.4 L808.3 687.2 L808.9 688.0 L809.5 688.8 L810.1 689.6 L810.7 690.4 L811.3 691.2 L812.0 692.0 L812.6 692.8 L813.2 693.6 L813.9 694.4 L814.5 695.2 L815.2 695.9 L815.8 696.7 L816.5 697.5 L817.2 698.3 L817.8 699.0 L818.5 699.8 L819.2 700.5 L819.9 701.2 L820.6 702.0 L821.3 702.7 L822.0 703.4 L822.8 704.1 L823.5 704.8 L824.2 705.5 L825.0 706.1 L825.7 706.8 L826.5 707.4 L827.3 708.1 L828.0 708.7 L828.8 709.3 L829.6 709.9 L830.4 710.5 L831.2 711.1 L832.0 711.6 L832.8 712.1 L833.6 712.7 L834.4 713.2 L835.3 713.7 L836.1 714.1 L837.0 714.6 L837.8 715.0 L838.7 715.4 L839.5 715.8 L840.4 716.2 L841.3 716.5 L842.2 716.9 L843.1 717.2 L844.0 717.5 L844.9 717.7 L845.8 718.0 L846.7 718.2 L847.7 718.4 L848.6 718.6 L849.6 718.7 L850.5 718.9 L851.5 719.0 L852.4 719.1 L853.4 719.1 L854.3 719.2 L855.3 719.2 L856.3 719.2 L857.2 719.2 L858.2 719.2 L859.2 719.2 L860.1 719.1 L861.1 719.1 L862.1 719.0 L863.0 718.9 L864.0 718.8 L865.0 718.7 L865.9 718.5 L866.9 718.4 L867.8 718.2 L868.8 718.0 L869.7 717.8 L870.7 717.6 L871.6 717.4 L872.6 717.2 L873.5 717.0 L874.4 716.7 L875.4 716.5 L876.3 716.2 L877.2 715.9 L878.2 715.6 L879.1 715.3 L880.0 715.0 L880.9 714.6 L881.8 714.3 L882.8 714.0 L883.7 713.6 L884.6 713.2 L885.5 712.8 L886.4 712.5 L887.3 712.1 L888.2 711.6 L889.1 711.2 L890.0 710.8 L890.9 710.4 L891.8 709.9 L892.7 709.5 L893.6 709.0 L894.5 708.5 L895.3 708.0 L896.2 707.6 L897.1 707.1 L898.0 706.6 L898.9 706.0 L899.7 705.5 L900.6 705.0 L901.5 704.5 L902.3 703.9 L903.2 703.4 L904.1 702.8 L904.9 702.3 L905.8 701.7 L906.6 701.1 L907.5 700.6 L908.4 700.0 L909.2 699.4 L910.1 698.8 L910.9 698.2 L911.7 697.6 L912.6 697.0 L913.4 696.4 L914.3 695.8 L915.1 695.1 L915.9 694.5 L916.8 693.9 L917.6 693.2 L918.4 692.6 L919.2 692.0 L920.1 691.3 L920.9 690.7 L921.7 690.0 L922.5 689.4 L923.3 688.7 L924.2 688.1 L925.0 687.4 L925.8 686.7 L926.6 686.1 L927.4 685.4 L928.2 684.7 L929.0 684.1 L929.8 683.4 L930.6 682.7 L931.4 682.0 L932.2 681.4 L933.0 680.7 L933.8 680.0 L934.5 679.3 L935.3 678.7 L936.1 678.0 L936.9 677.3 L937.7 676.6 L938.5 675.9 L939.2 675.3 L940.0 674.6 L940.8 673.9 L941.6 673.2 L942.3 672.6 L943.1 671.9 L943.9 671.2 L944.6 670.5 L945.4 669.8 L946.1 669.2 L946.9 668.5 L947.7 667.8 L948.4 667.1 L949.2 666.5 L949.9 665.8 L950.7 665.1 L951.4 664.4 L952.2 663.7 L952.9 663.1 L953.7 662.4 L954.4 661.7 L955.2 661.0 L955.9 660.3 L956.7 659.7 L957.4 659.0 L958.1 658.3 L958.9 657.6 L959.6 657.0 L960.3 656.3 L961.1 655.6 L961.8 654.9 L962.5 654.2 L963.3 653.6 L964.0 652.9 L964.7 652.2 L965.5 651.5 L966.2 650.8 L966.9 650.2 L967.7 649.5 L968.4 648.8 L969.1 648.1 L969.8 647.4 L970.5 646.8 L971.3 646.1 L972.0 645.4 L972.7 644.7 L973.4 644.0 L974.1 643.4 L974.9 642.7 L975.6 642.0 L976.3 641.3 L977.0 640.6 L977.7 640.0 L978.5 639.3 L979.2 638.6 L979.9 637.9 L980.6 637.2 L981.3 636.6 L982.0 635.9 L982.7 635.2 L983.5 634.5 L984.2 633.8 L984.9 633.2 L985.6 632.5 L986.3 631.8 L987.0 631.1 L987.7 630.4 L988.4 629.7 L989.1 629.1 L989.9 628.4 L990.6 627.7 L991.3 627.0 L992.0 626.3 L992.7 625.7 L993.4 625.0 L994.1 624.3 L994.8 623.6 L995.5 622.9 L996.3 622.2 L997.0 621.6 L997.7 620.9 L998.4 620.2 L999.1 619.5 L999.8 618.8 L1000.5 618.2 L1001.2 617.5 L1001.9 616.8 L1002.7 616.1 L1003.4 615.4 L1004.1 614.7 L1004.8 614.1 L1005.5 613.4 L1006.2 612.7 L1006.9 612.0 L1007.7 611.3 L1008.4 610.6 L1009.1 610.0 L1009.8 609.3 L1010.5 608.6 L1011.2 607.9 L1012.0 607.2 L1012.7 606.5 L1013.4 605.9 L1014.1 605.2 L1014.8 604.5 L1015.6 603.8 L1016.3 603.1 L1017.0 602.5 L1017.7 601.8 L1018.4 601.1 L1019.2 600.4 L1019.9 599.7 L1020.6 599.0 L1021.3 598.4 L1022.1 597.7 L1022.8 597.0 L1023.5 596.3 L1024.2 595.6 L1024.9 594.9 L1025.7 594.3 L1026.4 593.6 L1027.1 592.9 L1027.8 592.2 L1028.6 591.5 L1029.3 590.8 L1030.0 590.2 L1030.8 589.5 L1031.5 588.8 L1032.2 588.1 L1032.9 587.4 L1033.7 586.8 L1034.4 586.1 L1035.1 585.4 L1035.9 584.7 L1036.6 584.0 L1037.3 583.4 L1038.1 582.7 L1038.8 582.0 L1039.5 581.3 L1040.3 580.6 L1041.0 579.9 L1041.7 579.3 L1042.5 578.6 L1043.2 577.9 L1043.9 577.2 L1044.7 576.5 L1045.4 575.9 L1046.1 575.2 L1046.9 574.5 L1047.6 573.8 L1048.3 573.2 L1049.1 572.5 L1049.8 571.8 L1050.6 571.1 L1051.3 570.4 L1052.0 569.8 L1052.8 569.1 L1053.5 568.4 L1054.2 567.7 L1055.0 567.1 L1055.7 566.4 L1056.5 565.7 L1057.2 565.0 L1058.0 564.3 L1058.7 563.7 L1059.4 563.0 L1060.2 562.3 L1060.9 561.6 L1061.7 561.0 L1062.4 560.3 L1063.2 559.6 L1063.9 558.9 L1064.6 558.3 L1065.4 557.6 L1066.1 556.9 L1066.9 556.2 L1067.6 555.6 L1068.4 554.9 L1069.1 554.2 L1069.9 553.6 L1070.6 552.9 L1071.4 552.2 L1072.1 551.5 L1072.9 550.9 L1073.6 550.2 L1074.4 549.5 L1075.1 548.9 L1075.9 548.2 L1076.6 547.5 L1077.4 546.9 L1078.1 546.2 L1078.9 545.5 L1079.6 544.9 L1080.4 544.2 L1081.1 543.5 L1081.9 542.8 L1082.7 542.2 L1083.4 541.5 L1084.2 540.8 L1084.9 540.2 L1085.7 539.5 L1086.4 538.9 L1087.2 538.2 L1088.0 537.5 L1088.7 536.9 L1089.5 536.2 L1090.2 535.5 L1091.0 534.9 L1091.7 534.2 L1092.5 533.5 L1093.3 532.9 L1094.0 532.2 L1094.8 531.6 L1095.6 530.9 L1096.3 530.2 L1097.1 529.6 L1097.8 528.9 L1098.6 528.3 L1099.4 527.6 L1100.1 527.0 L1100.9 526.3 L1101.7 525.6 L1102.4 525.0 L1103.2 524.3 L1104.0 523.7 L1104.7 523.0 L1105.5 522.4 L1106.3 521.7 L1107.0 521.1 L1107.8 520.4 L1108.6 519.8 L1109.3 519.1 L1110.1 518.4 L1110.9 517.8 L1111.6 517.1 L1112.4 516.5 L1113.2 515.8 L1114.0 515.2 L1114.7 514.5 L1115.5 513.9 L1116.3 513.3 L1117.0 512.6 L1117.8 512.0 L1118.6 511.3 L1119.4 510.7 L1120.1 510.0 L1120.9 509.4 L1121.7 508.7 L1122.5 508.1 L1123.2 507.5 L1124.0 506.8 L1124.8 506.2 L1125.6 505.5 L1126.3 504.9 L1127.1 504.2 L1127.9 503.6 L1128.7 503.0 L1129.5 502.3 L1130.2 501.7 L1131.0 501.1 L1131.8 500.4 L1132.6 499.8 L1133.4 499.1 L1134.1 498.5 L1134.9 497.9 L1135.7 497.2 L1136.5 496.6 L1137.3 496.0 L1138.1 495.3 L1138.8 494.7 L1139.6 494.1 L1140.4 493.5 L1141.2 492.8 L1142.0 492.2 L1142.8 491.6 L1143.6 490.9 L1144.3 490.3 L1145.1 489.7 L1145.9 489.1 L1146.7 488.4 L1147.5 487.8 L1148.3 487.2 L1149.1 486.6 L1149.9 486.0 L1150.7 485.3 L1151.5 484.7 L1152.2 484.1 L1153.0 483.5 L1153.8 482.9 L1154.6 482.2 L1155.4 481.6 L1156.2 481.0 L1157.0 480.4 L1157.8 479.8 L1158.6 479.2 L1159.4 478.5 L1160.2 477.9 L1161.0 477.3 L1161.8 476.7 L1162.6 476.1 L1163.4 475.5 L1164.2 474.9 L1165.0 474.3 L1165.8 473.7 L1166.6 473.1 L1167.4 472.5 L1168.2 471.9 L1169.0 471.2 L1169.8 470.6 L1170.6 470.0 L1171.4 469.4 L1172.2 468.8 L1173.0 468.2 L1173.8 467.6 L1174.6 467.0 L1175.4 466.4 L1176.2 465.8 L1177.0 465.2 L1177.8 464.7 L1178.6 464.1 L1179.4 463.5 L1180.2 462.9 L1181.0 462.3 L1181.8 461.7 L1182.6 461.1 L1183.4 460.5 L1184.2 459.9 L1185.0 459.3 L1185.9 458.7 L1186.7 458.2 L1187.5 457.6 L1188.3 457.0 L1189.1 456.4 L1189.9 455.8 L1190.7 455.2 L1191.5 454.7 L1192.3 454.1 L1193.2 453.5 L1194.0 452.9 L1194.8 452.3 L1195.6 451.8 L1196.4 451.2 L1197.2 450.6 L1198.0 450.0 L1198.9 449.5 L1199.7 448.9 L1200.5 448.3 L1201.3 447.8 L1202.1 447.2 L1202.9 446.6 L1203.8 446.1 L1204.6 445.5 L1205.4 444.9 L1206.2 444.4 L1207.0 443.8 L1207.9 443.2 L1208.7 442.7 L1209.5 442.1 L1210.3 441.5 L1211.1 441.0 L1212.0 440.4 L1212.8 439.9 L1213.6 439.3 L1214.4 438.8 L1215.3 438.2 L1216.1 437.7 L1216.9 437.1 L1217.5 436.1 L1218.1 435.2 L1218.7 434.3 L1219.4 433.4 L1220.0 432.6 L1220.7 431.8 L1221.4 431.0 L1222.1 430.3 L1222.8 429.5 L1223.5 428.8 L1224.2 428.2 L1225.0 427.5 L1225.8 426.9 L1226.6 426.3 L1227.3 425.7 L1228.2 425.2 L1229.0 424.7 L1229.8 424.2 L1230.7 423.7 L1231.5 423.3 L1232.4 422.8 L1233.3 422.4 L1234.1 422.0 L1235.0 421.7 L1235.9 421.3 L1236.9 421.0 L1237.8 420.7 L1238.7 420.4 L1239.7 420.1 L1240.6 419.9 L1241.6 419.6 L1242.5 419.4 L1243.5 419.2 L1244.5 419.0 L1245.5 418.8 L1246.5 418.6 L1247.5 418.5 L1248.5 418.4 L1249.5 418.2 L1250.5 418.1 L1251.6 418.0 L1252.6 417.9 L1253.6 417.9 L1254.7 417.8 L1255.7 417.7 L1256.8 417.7 L1257.8 417.6 L1258.9 417.6 L1259.9 417.6 L1261.0 417.5 L1262.0 417.5 L1263.1 417.5 L1264.2 417.5 L1265.2 417.5 L1266.3 417.5 L1267.3 417.5 L1268.4 417.5 L1269.5 417.6 L1270.5 417.6 L1271.6 417.6 L1272.7 417.6 L1273.7 417.6 L1274.8 417.7 L1275.9 417.7 L1276.9 417.7 L1278.0 417.7 L1279.0 417.8 L1280.1 417.8 L1281.1 417.8 L1282.2 417.8 L1283.2 417.8 L1284.2 417.8 L1285.3 417.8 L1286.3 417.8 L1287.3 417.8 L1288.3 417.7 L1289.3 417.7 L1290.3 417.7 L1291.3 417.6 L1292.3 417.6 L1293.3 417.5 L1294.3 417.5 L1295.3 417.4 L1296.2 417.3 L1297.2 417.2 L1298.1 417.1 L1299.1 416.9 L1300.0 416.8 L1400.0 416.0 L1689.0 415.5" stroke="#3333ff" stroke-dasharray="15 18.72" stroke-dashoffset="29.48" stroke-linecap="round"/>
</g>
<g stroke-width="4.4" stroke-linecap="round" shape-rendering="crispEdges"><line x1="777.2" y1="769.5" x2="1049.5" y2="769.5" stroke="#cc0000"/>
<line x1="777.2" y1="860.0" x2="1049.5" y2="860.0" stroke="#3333ff"/>
<line x1="777.2" y1="951.0" x2="1049.5" y2="951.0" stroke="#3333ff" stroke-dasharray="15 18.8"/></g>
<g fill="#000" stroke="#000" stroke-width="8" stroke-linecap="round"><g stroke="none" shape-rendering="crispEdges"><rect x="277.0" y="92" width="17" height="2"/>
<rect x="1671.0" y="92" width="14" height="2"/>
<rect x="277.0" y="128" width="17" height="2"/>
<rect x="1671.0" y="128" width="14" height="2"/>
<rect x="277.0" y="163" width="17" height="2"/>
<rect x="1671.0" y="163" width="14" height="2"/>
<rect x="277.0" y="199" width="17" height="2"/>
<rect x="1671.0" y="199" width="14" height="2"/>
<rect x="277.0" y="271" width="17" height="2"/>
<rect x="1671.0" y="271" width="14" height="2"/>
<rect x="277.0" y="307" width="17" height="2"/>
<rect x="1671.0" y="307" width="14" height="2"/>
<rect x="277.0" y="342" width="17" height="2"/>
<rect x="1671.0" y="342" width="14" height="2"/>
<rect x="277.0" y="378" width="17" height="2"/>
<rect x="1671.0" y="378" width="14" height="2"/>
<rect x="277.0" y="450" width="17" height="2"/>
<rect x="1671.0" y="450" width="14" height="2"/>
<rect x="277.0" y="486" width="17" height="2"/>
<rect x="1671.0" y="486" width="14" height="2"/>
<rect x="277.0" y="521" width="17" height="2"/>
<rect x="1671.0" y="521" width="14" height="2"/>
<rect x="277.0" y="557" width="17" height="2"/>
<rect x="1671.0" y="557" width="14" height="2"/>
<rect x="277.0" y="629" width="17" height="2"/>
<rect x="1671.0" y="629" width="14" height="2"/>
<rect x="277.0" y="665" width="17" height="2"/>
<rect x="1671.0" y="665" width="14" height="2"/>
<rect x="277.0" y="700" width="17" height="2"/>
<rect x="1671.0" y="700" width="14" height="2"/>
<rect x="277.0" y="736" width="17" height="2"/>
<rect x="1671.0" y="736" width="14" height="2"/>
<rect x="277.0" y="808" width="17" height="2"/>
<rect x="1671.0" y="808" width="14" height="2"/>
<rect x="277.0" y="844" width="17" height="2"/>
<rect x="1671.0" y="844" width="14" height="2"/>
<rect x="277.0" y="879" width="17" height="2"/>
<rect x="1671.0" y="879" width="14" height="2"/>
<rect x="277.0" y="915" width="17" height="2"/>
<rect x="1671.0" y="915" width="14" height="2"/>
<rect x="277.0" y="987" width="17" height="2"/>
<rect x="1671.0" y="987" width="14" height="2"/>
<rect x="277.0" y="1023" width="17" height="2"/>
<rect x="1671.0" y="1023" width="14" height="2"/>
<rect x="277.0" y="1058" width="17" height="2"/>
<rect x="1671.0" y="1058" width="14" height="2"/>
<rect x="277.0" y="1094" width="17" height="2"/>
<rect x="1671.0" y="1094" width="14" height="2"/>
<rect x="320" y="1110.0" width="2" height="15"/>
<rect x="367" y="1110.0" width="2" height="15"/>
<rect x="414" y="1110.0" width="2" height="15"/>
<rect x="462" y="1110.0" width="2" height="15"/>
<rect x="556" y="1110.0" width="2" height="15"/>
<rect x="603" y="1110.0" width="2" height="15"/>
<rect x="651" y="1110.0" width="2" height="15"/>
<rect x="698" y="1110.0" width="2" height="15"/>
<rect x="793" y="1110.0" width="2" height="15"/>
<rect x="840" y="1110.0" width="2" height="15"/>
<rect x="887" y="1110.0" width="2" height="15"/>
<rect x="934" y="1110.0" width="2" height="15"/>
<rect x="1029" y="1110.0" width="2" height="15"/>
<rect x="1076" y="1110.0" width="2" height="15"/>
<rect x="1123" y="1110.0" width="2" height="15"/>
<rect x="1171" y="1110.0" width="2" height="15"/>
<rect x="1265" y="1110.0" width="2" height="15"/>
<rect x="1313" y="1110.0" width="2" height="15"/>
<rect x="1360" y="1110.0" width="2" height="15"/>
<rect x="1407" y="1110.0" width="2" height="15"/>
<rect x="1502" y="1110.0" width="2" height="15"/>
<rect x="1549" y="1110.0" width="2" height="15"/>
<rect x="1596" y="1110.0" width="2" height="15"/>
<rect x="1644" y="1110.0" width="2" height="15"/>
<rect x="269.0" y="53.0" width="8" height="1082.0"/>
<rect x="1685.0" y="53.0" width="8" height="1082.0"/>
<rect x="269.0" y="53.0" width="1424.0" height="8"/>
<rect x="269.0" y="1125.0" width="1424.0" height="10.0"/></g><line x1="273.0" y1="236.0" x2="307.0" y2="236.0"/>
<line x1="1692.0" y1="236.0" x2="1658.0" y2="236.0"/>
<line x1="273.0" y1="415.0" x2="307.0" y2="415.0"/>
<line x1="1692.0" y1="415.0" x2="1658.0" y2="415.0"/>
<line x1="273.0" y1="594.0" x2="307.0" y2="594.0"/>
<line x1="1692.0" y1="594.0" x2="1658.0" y2="594.0"/>
<line x1="273.0" y1="773.0" x2="307.0" y2="773.0"/>
<line x1="1692.0" y1="773.0" x2="1658.0" y2="773.0"/>
<line x1="273.0" y1="952.0" x2="307.0" y2="952.0"/>
<line x1="1692.0" y1="952.0" x2="1658.0" y2="952.0"/>
<line x1="509.8" y1="1127.0" x2="509.8" y2="1098.0"/>
<line x1="746.2" y1="1127.0" x2="746.2" y2="1098.0"/>
<line x1="982.6" y1="1127.0" x2="982.6" y2="1098.0"/>
<line x1="1219.0" y1="1127.0" x2="1219.0" y2="1098.0"/>
<line x1="1455.4" y1="1127.0" x2="1455.4" y2="1098.0"/>
<line x1="1691.9" y1="1127.0" x2="1691.9" y2="1098.0"/></g>
<g clip-path="url(#cb)" fill="none" stroke-width="4.4" stroke-linejoin="round" shape-rendering="crispEdges">
<path d="M260.0 1567.6 L600.0 1567.8 L715.0 1568.2 L716.2 1568.2 L717.3 1568.3 L718.4 1568.5 L719.4 1568.8 L720.3 1569.1 L721.2 1569.6 L722.0 1570.1 L722.7 1570.7 L723.4 1571.3 L724.1 1572.1 L724.7 1572.8 L725.2 1573.6 L725.7 1574.5 L726.2 1575.4 L726.6 1576.4 L727.0 1577.3 L727.3 1578.4 L727.7 1579.4 L727.9 1580.5 L728.2 1581.5 L728.4 1582.6 L728.6 1583.7 L728.8 1584.8 L728.9 1585.9 L729.0 1587.0 L729.2 1588.1 L729.2 1589.2 L729.3 1590.2 L729.4 1591.2 L729.5 1592.2 L729.5 1593.2 L729.6 1594.1 L729.6 1595.0 L735.4 1686.5 L735.4 1687.1 L735.5 1687.9 L735.7 1688.7 L736.0 1689.6 L736.4 1690.4 L736.9 1691.1 L737.5 1691.6 L738.2 1691.8 L739.0 1691.6 L740.5 1691.1 L741.4 1690.8 L742.4 1690.5 L743.4 1690.2 L744.3 1689.9 L745.3 1689.7 L746.2 1689.4 L747.2 1689.1 L748.2 1688.8 L749.1 1688.5 L750.1 1688.2 L751.1 1687.9 L752.0 1687.7 L753.0 1687.4 L754.0 1687.1 L754.9 1686.8 L755.9 1686.5 L756.9 1686.3 L757.8 1686.0 L758.8 1685.7 L759.8 1685.4 L760.7 1685.2 L761.7 1684.9 L762.7 1684.6 L763.6 1684.3 L764.6 1684.1 L765.6 1683.8 L766.5 1683.5 L767.5 1683.2 L768.5 1683.0 L769.4 1682.7 L770.4 1682.4 L771.4 1682.2 L772.3 1681.9 L773.3 1681.6 L774.3 1681.4 L775.2 1681.1 L776.2 1680.8 L777.2 1680.6 L778.2 1680.3 L779.1 1680.1 L780.1 1679.8 L781.1 1679.5 L782.0 1679.3 L783.0 1679.0 L784.0 1678.8 L784.9 1678.5 L785.9 1678.3 L786.9 1678.0 L787.9 1677.7 L788.8 1677.5 L789.8 1677.2 L790.8 1677.0 L791.7 1676.7 L792.7 1676.5 L793.7 1676.2 L794.7 1676.0 L795.6 1675.7 L796.6 1675.5 L797.6 1675.2 L798.6 1675.0 L799.5 1674.7 L800.5 1674.5 L801.5 1674.2 L802.4 1674.0 L803.4 1673.8 L804.4 1673.5 L805.4 1673.3 L806.3 1673.0 L807.3 1672.8 L808.3 1672.5 L809.3 1672.3 L810.2 1672.1 L811.2 1671.8 L812.2 1671.6 L813.2 1671.4 L814.1 1671.1 L815.1 1670.9 L816.1 1670.6 L817.1 1670.4 L818.0 1670.2 L819.0 1669.9 L820.0 1669.7 L821.0 1669.5 L821.9 1669.3 L822.9 1669.0 L823.9 1668.8 L824.9 1668.6 L825.9 1668.3 L826.8 1668.1 L827.8 1667.9 L828.8 1667.7 L829.8 1667.4 L830.7 1667.2 L831.7 1667.0 L832.7 1666.8 L833.7 1666.5 L834.7 1666.3 L835.6 1666.1 L836.6 1665.9 L837.6 1665.6 L838.6 1665.4 L839.5 1665.2 L840.5 1665.0 L841.5 1664.8 L842.5 1664.6 L843.5 1664.3 L844.4 1664.1 L845.4 1663.9 L846.4 1663.7 L847.4 1663.5 L848.4 1663.3 L849.3 1663.1 L850.3 1662.8 L851.3 1662.6 L852.3 1662.4 L853.3 1662.2 L854.2 1662.0 L855.2 1661.8 L856.2 1661.6 L857.2 1661.4 L858.2 1661.2 L859.2 1661.0 L860.1 1660.8 L861.1 1660.5 L862.1 1660.3 L863.1 1660.1 L864.1 1659.9 L865.0 1659.7 L866.0 1659.5 L867.0 1659.3 L868.0 1659.1 L869.0 1658.9 L870.0 1658.7 L870.9 1658.5 L871.9 1658.3 L872.9 1658.1 L873.9 1657.9 L874.9 1657.7 L875.9 1657.5 L876.8 1657.3 L877.8 1657.1 L878.8 1656.9 L879.8 1656.8 L880.8 1656.6 L881.8 1656.4 L882.7 1656.2 L883.7 1656.0 L884.7 1655.8 L885.7 1655.6 L886.7 1655.4 L887.7 1655.2 L888.7 1655.0 L889.6 1654.8 L890.6 1654.7 L891.6 1654.5 L892.6 1654.3 L893.6 1654.1 L894.6 1653.9 L895.6 1653.7 L896.5 1653.5 L897.5 1653.4 L898.5 1653.2 L899.5 1653.0 L900.5 1652.8 L901.5 1652.6 L902.5 1652.4 L903.4 1652.3 L904.4 1652.1 L905.4 1651.9 L906.4 1651.7 L907.4 1651.5 L908.4 1651.4 L909.4 1651.2 L910.3 1651.0 L911.3 1650.8 L912.3 1650.7 L913.3 1650.5 L914.3 1650.3 L915.3 1650.1 L916.3 1650.0 L917.3 1649.8 L918.3 1649.6 L919.2 1649.4 L920.2 1649.3 L921.2 1649.1 L922.2 1648.9 L923.2 1648.7 L924.2 1648.6 L925.2 1648.4 L926.2 1648.2 L927.1 1648.1 L928.1 1647.9 L929.1 1647.7 L930.1 1647.6 L931.1 1647.4 L932.1 1647.2 L933.1 1647.1 L934.1 1646.9 L935.1 1646.7 L936.1 1646.6 L937.0 1646.4 L938.0 1646.2 L939.0 1646.1 L940.0 1645.9 L941.0 1645.8 L942.0 1645.6 L943.0 1645.4 L944.0 1645.3 L945.0 1645.1 L946.0 1645.0 L946.9 1644.8 L947.9 1644.6 L948.9 1644.5 L949.9 1644.3 L950.9 1644.2 L951.9 1644.0 L952.9 1643.9 L953.9 1643.7 L954.9 1643.5 L955.9 1643.4 L956.9 1643.2 L957.9 1643.1 L958.8 1642.9 L959.8 1642.8 L960.8 1642.6 L961.8 1642.5 L962.8 1642.3 L963.8 1642.2 L964.8 1642.0 L965.8 1641.9 L966.8 1641.7 L967.8 1641.6 L968.8 1641.4 L969.8 1641.3 L970.7 1641.1 L971.7 1641.0 L972.7 1640.8 L973.7 1640.7 L974.7 1640.5 L975.7 1640.4 L976.7 1640.2 L977.7 1640.1 L978.7 1640.0 L979.7 1639.8 L980.7 1639.7 L981.7 1639.5 L982.7 1639.4 L983.7 1639.2 L984.7 1639.1 L985.6 1639.0 L986.6 1638.8 L987.6 1638.7 L988.6 1638.5 L989.6 1638.4 L990.6 1638.3 L991.6 1638.1 L992.6 1638.0 L993.6 1637.8 L994.6 1637.7 L995.6 1637.6 L996.6 1637.4 L997.6 1637.3 L998.6 1637.1 L999.6 1637.0 L1000.6 1636.9 L1001.6 1636.7 L1002.5 1636.6 L1003.5 1636.5 L1004.5 1636.3 L1005.5 1636.2 L1006.5 1636.1 L1007.5 1635.9 L1008.5 1635.8 L1009.5 1635.7 L1010.5 1635.5 L1011.5 1635.4 L1012.5 1635.3 L1013.5 1635.1 L1014.5 1635.0 L1015.5 1634.9 L1016.5 1634.8 L1017.5 1634.6 L1018.5 1634.5 L1019.5 1634.4 L1020.5 1634.2 L1021.5 1634.1 L1022.5 1634.0 L1023.5 1633.9 L1024.4 1633.7 L1025.4 1633.6 L1026.4 1633.5 L1027.4 1633.4 L1028.4 1633.2 L1029.4 1633.1 L1030.4 1633.0 L1031.4 1632.9 L1032.4 1632.7 L1033.4 1632.6 L1034.4 1632.5 L1035.4 1632.4 L1036.4 1632.2 L1037.4 1632.1 L1038.4 1632.0 L1039.4 1631.9 L1040.4 1631.8 L1041.4 1631.6 L1042.4 1631.5 L1043.4 1631.4 L1044.4 1631.3 L1045.4 1631.1 L1046.4 1631.0 L1047.4 1630.9 L1048.4 1630.8 L1049.4 1630.7 L1050.4 1630.6 L1051.4 1630.4 L1052.4 1630.3 L1053.3 1630.2 L1054.3 1630.1 L1055.3 1630.0 L1056.3 1629.9 L1057.3 1629.7 L1058.3 1629.6 L1059.3 1629.5 L1060.3 1629.4 L1061.3 1629.3 L1062.3 1629.2 L1063.3 1629.0 L1064.3 1628.9 L1065.3 1628.8 L1066.3 1628.7 L1067.3 1628.6 L1068.3 1628.5 L1069.3 1628.4 L1070.3 1628.3 L1071.3 1628.1 L1072.3 1628.0 L1073.3 1627.9 L1074.3 1627.8 L1075.3 1627.7 L1076.3 1627.6 L1077.3 1627.5 L1078.3 1627.4 L1079.3 1627.3 L1080.3 1627.1 L1081.3 1627.0 L1082.3 1626.9 L1083.3 1626.8 L1084.3 1626.7 L1085.3 1626.6 L1086.3 1626.5 L1087.3 1626.4 L1088.3 1626.3 L1089.3 1626.2 L1090.3 1626.1 L1091.3 1626.0 L1092.3 1625.9 L1093.3 1625.7 L1094.3 1625.6 L1095.3 1625.5 L1096.3 1625.4 L1097.3 1625.3 L1098.3 1625.2 L1099.3 1625.1 L1100.2 1625.0 L1101.2 1624.9 L1102.2 1624.8 L1103.2 1624.7 L1104.2 1624.6 L1105.2 1624.5 L1106.2 1624.4 L1107.2 1624.3 L1108.2 1624.2 L1109.2 1624.1 L1110.2 1624.0 L1111.2 1623.9 L1112.2 1623.8 L1113.2 1623.7 L1114.2 1623.6 L1115.2 1623.5 L1116.2 1623.4 L1117.2 1623.3 L1118.2 1623.2 L1119.2 1623.1 L1120.2 1623.0 L1121.2 1622.9 L1122.2 1622.8 L1123.2 1622.7 L1124.2 1622.6 L1125.2 1622.5 L1126.2 1622.4 L1127.2 1622.3 L1128.2 1622.2 L1129.2 1622.1 L1130.2 1622.0 L1131.2 1621.9 L1132.2 1621.8 L1133.2 1621.7 L1134.2 1621.6 L1135.2 1621.5 L1136.2 1621.4 L1137.2 1621.3 L1138.2 1621.2 L1139.2 1621.1 L1140.2 1621.0 L1141.2 1620.9 L1142.2 1620.8 L1143.2 1620.7 L1144.2 1620.6 L1145.2 1620.5 L1146.2 1620.4 L1147.2 1620.3 L1148.2 1620.2 L1149.2 1620.1 L1150.2 1620.0 L1151.2 1620.0 L1152.2 1619.9 L1153.2 1619.8 L1154.2 1619.7 L1155.2 1619.6 L1156.2 1619.5 L1157.2 1619.4 L1158.2 1619.3 L1159.2 1619.2 L1160.2 1619.1 L1161.2 1619.0 L1162.2 1618.9 L1163.2 1618.8 L1164.2 1618.7 L1165.2 1618.6 L1166.2 1618.6 L1167.1 1618.5 L1168.1 1618.4 L1169.1 1618.3 L1170.1 1618.2 L1171.1 1618.1 L1172.1 1618.0 L1173.1 1617.9 L1174.1 1617.8 L1175.1 1617.7 L1176.1 1617.6 L1177.1 1617.5 L1178.1 1617.5 L1179.1 1617.4 L1180.1 1617.3 L1181.1 1617.2 L1182.1 1617.1 L1183.1 1617.0 L1184.1 1616.9 L1185.1 1616.8 L1186.1 1616.7 L1187.1 1616.6 L1188.1 1616.6 L1189.1 1616.5 L1190.1 1616.4 L1191.1 1616.3 L1192.1 1616.2 L1193.1 1616.1 L1194.0 1615.6 L1194.9 1615.0 L1195.7 1614.4 L1196.5 1613.8 L1197.2 1613.2 L1197.9 1612.5 L1198.5 1611.7 L1199.2 1611.0 L1199.8 1610.2 L1200.3 1609.4 L1200.8 1608.5 L1201.3 1607.7 L1201.8 1606.8 L1202.3 1605.9 L1202.7 1605.0 L1203.1 1604.0 L1203.5 1603.1 L1203.9 1602.1 L1204.3 1601.1 L1204.6 1600.1 L1205.0 1599.1 L1205.3 1598.1 L1205.6 1597.1 L1205.9 1596.1 L1206.3 1595.1 L1206.6 1594.1 L1206.9 1593.1 L1207.2 1592.1 L1207.5 1591.0 L1207.9 1590.0 L1208.2 1589.1 L1208.6 1588.1 L1208.9 1587.1 L1209.3 1586.2 L1209.7 1585.2 L1210.1 1584.3 L1210.5 1583.4 L1211.0 1582.5 L1211.4 1581.6 L1211.9 1580.8 L1212.5 1580.0 L1213.0 1579.2 L1213.6 1578.4 L1214.2 1577.7 L1214.8 1577.0 L1215.5 1576.3 L1216.2 1575.6 L1216.9 1575.0 L1217.6 1574.4 L1218.4 1573.8 L1219.2 1573.3 L1220.0 1572.8 L1220.8 1572.3 L1221.6 1571.8 L1222.5 1571.4 L1223.4 1571.0 L1224.3 1570.6 L1225.2 1570.3 L1226.2 1569.9 L1227.1 1569.6 L1228.1 1569.4 L1229.1 1569.1 L1230.1 1568.9 L1231.1 1568.7 L1232.2 1568.6 L1233.2 1568.5 L1234.2 1568.3 L1235.3 1568.3 L1236.4 1568.2 L1237.4 1568.1 L1238.5 1568.1 L1239.6 1568.1 L1240.7 1568.1 L1241.7 1568.1 L1242.8 1568.1 L1243.9 1568.1 L1245.0 1568.2 L1246.0 1568.2 L1247.1 1568.3 L1248.1 1568.4 L1249.1 1568.4 L1250.1 1568.5 L1251.2 1568.6 L1252.1 1568.6 L1253.1 1568.7 L1254.1 1568.7 L1255.0 1568.8 L1676.0 1568.5" stroke="#cc0000"/>
<path d="M260.0 1568.4 L300.0 1568.5 L432.0 1569.5 L582.0 1570.5 L583.1 1570.5 L584.1 1570.5 L585.1 1570.5 L586.2 1570.5 L587.2 1570.5 L588.3 1570.6 L589.3 1570.6 L590.3 1570.6 L591.4 1570.6 L592.4 1570.6 L593.4 1570.6 L594.4 1570.6 L595.4 1570.6 L596.5 1570.7 L597.5 1570.7 L598.5 1570.7 L599.5 1570.7 L600.5 1570.7 L601.5 1570.7 L602.5 1570.7 L603.5 1570.8 L604.5 1570.8 L605.5 1570.8 L606.5 1570.8 L607.5 1570.8 L608.5 1570.8 L609.5 1570.9 L610.5 1570.9 L611.5 1570.9 L612.5 1570.9 L613.5 1570.9 L614.4 1570.9 L615.4 1571.0 L616.4 1571.0 L617.4 1571.0 L618.4 1571.0 L619.4 1571.0 L620.3 1571.0 L621.3 1571.1 L622.3 1571.1 L623.3 1571.1 L624.3 1571.1 L625.2 1571.1 L626.2 1571.2 L627.2 1571.2 L628.2 1571.2 L629.1 1571.2 L630.1 1571.2 L631.1 1571.3 L632.1 1571.3 L633.0 1571.3 L634.0 1571.3 L635.0 1571.3 L636.0 1571.4 L637.0 1571.4 L637.9 1571.4 L638.9 1571.4 L639.9 1571.4 L640.9 1571.5 L641.9 1571.5 L642.8 1571.5 L643.8 1571.5 L644.8 1571.5 L645.8 1571.6 L646.8 1571.6 L647.8 1571.6 L648.8 1571.6 L649.7 1571.6 L650.7 1571.7 L651.7 1571.7 L652.7 1571.7 L653.7 1571.7 L654.7 1571.7 L655.7 1571.8 L656.7 1571.8 L657.7 1571.8 L658.7 1571.8 L659.7 1571.8 L660.7 1571.9 L661.7 1571.9 L662.7 1571.9 L663.8 1571.9 L664.8 1571.9 L665.8 1572.0 L666.8 1572.0 L667.8 1572.0 L668.9 1572.0 L669.9 1572.0 L670.9 1572.1 L672.0 1572.1 L673.0 1572.1 L674.0 1572.1 L675.1 1572.1 L676.1 1572.2 L677.2 1572.2 L678.2 1572.2 L679.3 1572.2 L680.3 1572.3 L681.4 1572.3 L682.4 1572.3 L683.5 1572.4 L684.5 1572.4 L685.6 1572.5 L686.6 1572.5 L687.7 1572.6 L688.7 1572.7 L689.8 1572.8 L690.8 1572.9 L691.9 1573.0 L692.9 1573.1 L694.0 1573.3 L695.0 1573.4 L696.0 1573.6 L697.0 1573.8 L698.0 1574.0 L699.1 1574.2 L700.1 1574.5 L701.1 1574.8 L702.0 1575.1 L703.0 1575.4 L704.0 1575.7 L704.9 1576.1 L705.9 1576.5 L706.8 1576.9 L707.7 1577.3 L708.6 1577.7 L709.4 1578.2 L710.3 1578.7 L711.1 1579.2 L711.9 1579.8 L712.6 1580.3 L713.3 1580.9 L714.0 1581.5 L714.7 1582.2 L715.3 1582.8 L715.9 1583.5 L716.5 1584.2 L717.1 1584.9 L717.6 1585.6 L718.1 1586.4 L718.6 1587.1 L719.1 1587.9 L719.5 1588.7 L719.9 1589.6 L720.3 1590.4 L720.7 1591.2 L721.1 1592.1 L721.4 1593.0 L721.8 1593.9 L722.1 1594.8 L722.4 1595.7 L722.6 1596.6 L722.9 1597.6 L723.1 1598.5 L723.4 1599.5 L723.6 1600.5 L723.8 1601.4 L724.0 1602.4 L724.2 1603.4 L724.3 1604.4 L724.5 1605.4 L724.7 1606.4 L724.8 1607.4 L725.0 1608.5 L725.1 1609.5 L725.2 1610.5 L725.3 1611.5 L725.4 1612.6 L725.6 1613.6 L725.7 1614.6 L725.8 1615.7 L725.9 1616.7 L726.0 1617.7 L726.1 1618.8 L726.2 1619.8 L726.3 1620.8 L726.3 1621.9 L726.4 1622.9 L726.5 1623.9 L726.6 1624.9 L726.7 1626.0 L726.8 1627.0 L726.9 1628.0 L727.0 1629.0 L727.1 1630.0 L727.1 1631.1 L727.2 1632.1 L727.3 1633.1 L727.4 1634.1 L727.5 1635.1 L727.5 1636.2 L727.6 1637.2 L727.7 1638.2 L727.8 1639.2 L727.8 1640.2 L727.9 1641.2 L728.0 1642.2 L728.0 1643.2 L728.1 1644.3 L728.2 1645.3 L728.2 1646.3 L728.3 1647.3 L728.4 1648.3 L728.4 1649.3 L728.5 1650.3 L728.5 1651.3 L728.6 1652.3 L728.7 1653.3 L728.7 1654.3 L728.8 1655.3 L728.8 1656.3 L728.9 1657.3 L728.9 1658.3 L729.0 1659.3 L729.1 1660.3 L729.1 1661.3 L729.2 1662.3 L729.2 1663.3 L729.3 1664.3 L729.3 1665.3 L729.4 1666.3 L729.4 1667.3 L729.5 1668.3 L729.5 1669.3 L729.5 1670.3 L729.6 1671.3 L729.6 1672.3 L729.7 1673.3 L729.7 1674.3 L729.8 1675.3 L729.8 1676.3 L729.8 1677.3 L729.9 1678.3 L729.9 1679.3 L730.0 1680.3 L730.0 1681.3 L730.0 1682.3 L730.1 1683.3 L730.1 1684.3 L730.2 1685.3 L730.2 1686.3 L730.2 1687.3 L730.3 1688.3 L730.3 1689.3 L730.4 1690.3 L730.4 1691.2 L730.4 1692.2 L730.5 1693.2 L730.5 1694.2 L730.5 1695.2 L730.6 1696.2 L730.6 1697.2 L730.6 1698.2 L730.7 1699.2 L730.7 1700.2 L730.7 1701.2 L730.8 1702.2 L730.8 1703.2 L730.8 1704.2 L730.9 1705.2 L730.9 1706.2 L730.9 1707.2 L730.9 1708.2 L731.0 1709.2 L731.0 1710.2 L731.0 1711.2 L731.1 1712.2 L731.1 1713.2 L731.1 1714.2 L731.2 1715.2 L731.2 1716.2 L731.2 1717.2 L731.2 1718.2 L731.3 1719.2 L731.3 1720.2 L731.3 1721.2 L731.3 1722.2 L731.4 1723.2 L731.4 1724.2 L731.4 1725.2 L731.4 1726.2 L731.5 1727.2 L731.5 1728.2 L731.5 1729.2 L731.5 1730.2 L731.6 1731.2 L731.6 1732.2 L731.6 1733.2 L731.6 1734.2 L731.7 1735.2 L731.7 1736.2 L731.7 1737.2 L731.7 1738.2 L731.8 1739.2 L731.8 1740.2 L731.8 1741.2 L731.8 1742.1 L731.8 1743.1 L731.9 1744.1 L731.9 1745.1 L731.9 1746.1 L731.9 1747.1 L731.9 1748.1 L732.0 1749.1 L732.0 1750.1 L732.0 1751.1 L732.0 1752.1 L732.0 1753.1 L732.1 1754.1 L732.1 1755.1 L732.1 1756.1 L732.1 1757.1 L732.1 1758.1 L732.1 1759.1 L732.2 1760.1 L732.2 1761.2 L732.2 1762.2 L732.2 1763.2 L732.2 1764.2 L732.2 1765.2 L732.3 1766.2 L732.3 1767.2 L732.3 1768.2 L732.3 1769.2 L732.3 1770.2 L732.3 1771.2 L732.3 1772.2 L732.4 1773.2 L732.4 1774.2 L732.4 1775.2 L732.4 1776.2 L732.4 1777.2 L732.4 1778.2 L732.4 1779.2 L732.5 1780.2 L732.5 1781.2 L732.5 1782.2 L732.5 1783.2 L732.5 1784.2 L732.5 1785.2 L732.5 1786.2 L732.5 1787.2 L732.6 1788.2 L732.6 1789.2 L732.6 1790.2 L732.6 1791.2 L732.6 1792.2 L732.6 1793.2 L732.6 1794.2 L732.6 1795.2 L732.6 1796.2 L732.7 1797.2 L732.7 1798.2 L732.7 1799.2 L732.7 1800.2 L732.7 1801.2 L732.7 1802.2 L732.7 1803.2 L732.7 1804.2 L732.7 1805.2 L732.7 1806.2 L732.8 1807.2 L732.8 1808.2 L732.8 1809.2 L732.8 1810.2 L732.8 1811.2 L732.8 1812.2 L732.8 1813.2 L732.8 1814.2 L732.8 1815.2 L732.8 1816.2 L732.8 1817.2 L732.9 1818.2 L732.9 1819.2 L732.9 1820.2 L732.9 1821.3 L732.9 1822.3 L732.9 1823.3 L732.9 1824.3 L732.9 1825.3 L732.9 1826.3 L732.9 1827.3 L732.9 1828.3 L732.9 1829.3 L732.9 1830.3 L733.0 1831.3 L733.0 1832.3 L733.0 1833.3 L733.0 1834.3 L733.0 1835.3 L733.0 1836.3 L733.0 1837.3 L733.0 1838.3 L733.0 1839.3 L733.0 1840.3 L733.0 1841.3 L733.0 1842.3 L733.0 1843.3 L733.0 1844.3 L733.0 1845.3 L733.0 1846.3 L733.1 1847.3 L733.1 1848.3 L733.1 1849.3 L733.1 1850.3 L733.1 1851.3 L733.1 1852.3 L733.1 1853.4 L733.1 1854.4 L733.1 1855.4 L733.1 1856.4 L733.1 1857.4 L733.1 1858.4 L733.1 1859.4 L733.1 1860.4 L733.1 1861.4 L733.1 1862.4 L733.1 1863.4 L733.2 1864.4 L733.2 1865.4 L733.2 1866.4 L733.2 1867.4 L733.2 1868.4 L733.2 1869.4 L733.2 1870.4 L733.2 1871.4 L733.2 1872.4 L733.2 1873.4 L733.2 1874.4 L733.2 1875.4 L733.2 1876.4 L733.2 1877.4 L733.2 1878.4 L733.2 1879.4 L733.2 1880.5 L733.2 1881.5 L733.3 1882.5 L733.3 1883.5 L733.3 1884.5 L733.3 1885.5 L733.3 1886.5 L733.3 1887.5 L733.3 1888.5 L733.3 1889.5 L733.3 1890.5 L733.3 1891.5 L733.3 1892.5 L733.3 1893.5 L733.3 1894.5 L733.3 1895.5 L733.3 1896.5 L733.3 1897.5 L733.3 1898.5 L733.3 1899.5 L733.4 1900.5 L733.4 1901.5 L733.4 1902.5 L733.4 1903.5 L733.4 1904.5 L733.4 1905.6 L733.4 1906.6 L733.4 1907.6 L733.4 1908.6 L733.4 1909.6 L733.4 1910.6 L733.4 1911.6 L733.4 1912.6 L733.4 1913.6 L733.5 1914.6 L733.5 1915.6 L733.5 1916.6 L733.5 1917.6 L733.5 1918.6 L733.5 1919.6 L733.5 1920.6 L733.5 1921.6 L733.5 1922.6 L733.5 1923.6 L733.5 1924.6 L733.5 1925.6 L733.5 1926.6 L733.6 1927.6 L733.6 1928.6 L733.6 1929.7 L733.6 1930.7 L733.6 1931.7 L733.6 1932.7 L733.6 1933.7 L733.6 1934.7 L733.6 1935.7 L733.6 1936.7 L733.6 1937.7 L733.7 1938.7 L733.7 1939.7 L733.7 1940.7 L733.7 1941.7 L733.7 1942.7 L733.7 1943.7 L733.7 1944.7 L733.7 1945.7 L733.7 1946.7 L733.7 1947.7 L733.8 1948.7 L733.8 1949.7 L733.8 1950.7 L733.8 1951.7 L733.8 1952.7 L733.8 1953.7 L733.8 1954.8 L733.8 1955.8 L733.8 1956.8 L733.9 1957.8 L733.9 1958.8 L733.9 1959.8 L733.9 1960.8 L733.9 1961.8 L733.9 1962.8 L733.9 1963.8 L734.0 1964.8 L734.0 1965.8 L734.0 1966.8 L734.0 1967.8 L734.0 1968.8 L734.0 1969.8 L734.0 1970.8 L734.1 1971.8 L734.1 1972.8 L734.1 1973.8 L734.1 1974.8 L734.1 1975.8 L734.1 1976.8 L734.1 1977.8 L734.2 1978.8 L734.2 1979.8 L734.2 1980.8 L734.2 1981.8 L734.2 1982.9 L734.2 1983.9 L734.3 1984.9 L734.3 1985.9 L734.3 1986.9 L734.3 1987.9 L734.3 1988.9 L734.4 1989.9 L734.4 1990.9 L734.4 1991.9 L734.4 1992.9 L734.4 1993.9 L734.5 1994.9 L734.5 1995.9 L734.5 1996.9 L734.5 1997.9 L734.5 1998.9 L734.6 1999.9 L734.6 2000.9 L734.6 2001.9 L734.6 2002.9 L734.6 2003.9 L734.7 2004.9 L734.7 2005.9 L734.7 2006.9 L734.7 2007.9 L734.8 2008.9 L734.8 2009.9 L734.8 2010.9 L734.8 2011.9 L734.8 2012.9 L734.9 2013.9 L734.9 2014.9 L734.9 2016.0 L734.9 2017.0 L735.0 2018.0 L735.0 2019.0 L735.0 2020.0 L735.0 2021.0 L735.1 2022.0 L735.1 2023.0 L735.1 2024.0 L735.2 2025.0 L735.2 2026.0 L735.2 2027.0 L735.2 2028.0 L735.3 2029.0 L735.3 2030.0 L735.3 2031.0 L735.4 2032.0 L735.4 2033.0 L735.4 2034.0 L735.4 2035.0 L735.5 2036.0 L735.5 2037.0 L735.5 2038.0 L735.6 2039.0 L735.6 2040.0 L735.6 2041.0 L735.7 2042.0 L735.7 2043.0 L735.7 2044.0 L735.8 2045.0 L735.8 2046.0 L735.8 2047.0 L735.9 2048.0 L735.9 2049.0 L735.9 2050.0 L736.0 2051.0 L736.0 2052.0 L736.0 2053.0 L736.1 2054.0 L736.1 2055.0 L736.2 2056.0 L736.2 2057.0 L736.2 2058.0 L736.3 2059.0 L736.3 2060.0 L736.4 2061.0 L736.4 2062.0 L736.4 2063.0 L736.5 2064.0 L736.5 2065.0 L736.6 2066.0 L736.6 2067.0 L736.6 2068.0 L736.7 2069.0 L736.7 2070.0 L736.8 2071.0 L736.8 2072.0 L736.8 2073.0 L736.9 2074.0 L736.9 2075.0 L737.0 2076.0 L737.0 2077.0 L737.1 2078.0 L737.1 2079.0 L737.2 2080.0 L737.2 2081.0 L737.3 2082.0 L737.3 2083.0 L737.4 2084.0 L737.4 2085.0 L737.4 2086.0 L737.5 2087.0 L737.5 2088.0 L737.6 2089.0 L737.6 2090.0 L737.7 2091.0 L737.7 2092.0 L737.8 2093.0 L737.8 2094.0 L737.9 2095.0 L738.0 2096.0 L738.0 2097.0 L738.1 2098.0 L738.1 2099.0 L738.2 2100.0 L738.2 2101.0 L738.3 2102.0 L738.3 2103.0 L738.4 2104.0 L738.4 2105.0 L738.5 2106.0 L738.6 2107.0 L738.6 2108.0 L738.7 2109.0 L738.7 2110.0 L738.8 2111.0 L738.9 2112.0 L738.9 2113.0 L739.0 2114.0 L739.0 2115.0 L739.1 2116.0 L739.2 2115.0 L739.3 2114.0 L739.5 2113.0 L739.6 2112.0 L739.7 2111.0 L739.8 2110.0 L739.9 2109.1 L740.1 2108.1 L740.2 2107.1 L740.3 2106.1 L740.4 2105.1 L740.6 2104.1 L740.7 2103.1 L740.8 2102.1 L740.9 2101.1 L741.1 2100.1 L741.2 2099.2 L741.3 2098.2 L741.5 2097.2 L741.6 2096.2 L741.7 2095.2 L741.9 2094.2 L742.0 2093.2 L742.1 2092.2 L742.3 2091.2 L742.4 2090.3 L742.6 2089.3 L742.7 2088.3 L742.8 2087.3 L743.0 2086.3 L743.1 2085.3 L743.3 2084.3 L743.4 2083.3 L743.6 2082.4 L743.7 2081.4 L743.9 2080.4 L744.0 2079.4 L744.2 2078.4 L744.3 2077.4 L744.5 2076.4 L744.6 2075.4 L744.8 2074.5 L744.9 2073.5 L745.1 2072.5 L745.2 2071.5 L745.4 2070.5 L745.5 2069.5 L745.7 2068.5 L745.9 2067.6 L746.0 2066.6 L746.2 2065.6 L746.3 2064.6 L746.5 2063.6 L746.7 2062.6 L746.8 2061.7 L747.0 2060.7 L747.2 2059.7 L747.3 2058.7 L747.5 2057.7 L747.7 2056.7 L747.8 2055.8 L748.0 2054.8 L748.2 2053.8 L748.3 2052.8 L748.5 2051.8 L748.7 2050.8 L748.9 2049.9 L749.0 2048.9 L749.2 2047.9 L749.4 2046.9 L749.6 2045.9 L749.8 2045.0 L749.9 2044.0 L750.1 2043.0 L750.3 2042.0 L750.5 2041.0 L750.7 2040.0 L750.9 2039.1 L751.0 2038.1 L751.2 2037.1 L751.4 2036.1 L751.6 2035.1 L751.8 2034.2 L752.0 2033.2 L752.2 2032.2 L752.4 2031.2 L752.6 2030.3 L752.8 2029.3 L753.0 2028.3 L753.2 2027.3 L753.4 2026.3 L753.6 2025.4 L753.8 2024.4 L754.0 2023.4 L754.2 2022.4 L754.4 2021.5 L754.6 2020.5 L754.8 2019.5 L755.0 2018.5 L755.2 2017.5 L755.4 2016.6 L755.6 2015.6 L755.8 2014.6 L756.0 2013.6 L756.2 2012.7 L756.4 2011.7 L756.7 2010.7 L756.9 2009.7 L757.1 2008.8 L757.3 2007.8 L757.5 2006.8 L757.7 2005.8 L758.0 2004.9 L758.2 2003.9 L758.4 2002.9 L758.6 2002.0 L758.8 2001.0 L759.1 2000.0 L759.3 1999.0 L759.5 1998.1 L759.8 1997.1 L760.0 1996.1 L760.2 1995.1 L760.4 1994.2 L760.7 1993.2 L760.9 1992.2 L761.1 1991.3 L761.4 1990.3 L761.6 1989.3 L761.9 1988.3 L762.1 1987.4 L762.3 1986.4 L762.6 1985.4 L762.8 1984.5 L763.1 1983.5 L763.3 1982.5 L763.5 1981.6 L763.8 1980.6 L764.0 1979.6 L764.3 1978.6 L764.5 1977.7 L764.8 1976.7 L765.0 1975.7 L765.3 1974.8 L765.5 1973.8 L765.8 1972.8 L766.0 1971.9 L766.3 1970.9 L766.6 1969.9 L766.8 1969.0 L767.1 1968.0 L767.3 1967.0 L767.6 1966.1 L767.9 1965.1 L768.1 1964.1 L768.4 1963.2 L768.7 1962.2 L768.9 1961.2 L769.2 1960.3 L769.5 1959.3 L769.7 1958.4 L770.0 1957.4 L770.3 1956.4 L770.5 1955.5 L770.8 1954.5 L771.1 1953.5 L771.4 1952.6 L771.7 1951.6 L771.9 1950.6 L772.2 1949.7 L772.5 1948.7 L772.8 1947.8 L773.1 1946.8 L773.3 1945.8 L773.6 1944.9 L773.9 1943.9 L774.2 1943.0 L774.5 1942.0 L774.8 1941.0 L775.1 1940.1 L775.4 1939.1 L775.7 1938.1 L776.0 1937.2 L776.2 1936.2 L776.5 1935.3 L776.8 1934.3 L777.1 1933.4 L777.4 1932.4 L777.7 1931.4 L778.0 1930.5 L778.3 1929.5 L778.7 1928.6 L779.0 1927.6 L779.3 1926.6 L779.6 1925.7 L779.9 1924.7 L780.2 1923.8 L780.5 1922.8 L780.8 1921.9 L781.1 1920.9 L781.4 1920.0 L781.8 1919.0 L782.1 1918.0 L782.4 1917.1 L782.7 1916.1 L783.0 1915.2 L783.4 1914.2 L783.7 1913.3 L784.0 1912.3 L784.3 1911.4 L784.7 1910.4 L785.0 1909.5 L785.3 1908.5 L785.6 1907.6 L786.0 1906.6 L786.3 1905.6 L786.6 1904.7 L787.0 1903.7 L787.3 1902.8 L787.7 1901.8 L788.0 1900.9 L788.3 1899.9 L788.7 1899.0 L789.0 1898.0 L789.4 1897.1 L789.7 1896.1 L790.0 1895.2 L790.4 1894.2 L790.7 1893.3 L791.1 1892.3 L791.4 1891.4 L791.8 1890.5 L792.2 1889.5 L792.5 1888.6 L792.9 1887.6 L793.2 1886.7 L793.6 1885.7 L793.9 1884.8 L794.3 1883.8 L794.7 1882.9 L795.0 1881.9 L795.4 1881.0 L795.8 1880.1 L796.1 1879.1 L796.5 1878.2 L796.9 1877.2 L797.2 1876.3 L797.6 1875.4 L798.0 1874.4 L798.4 1873.5 L798.7 1872.5 L799.1 1871.6 L799.5 1870.7 L799.9 1869.7 L800.3 1868.8 L800.6 1867.9 L801.0 1866.9 L801.4 1866.0 L801.8 1865.1 L802.2 1864.1 L802.6 1863.2 L803.0 1862.3 L803.4 1861.3 L803.8 1860.4 L804.2 1859.5 L804.6 1858.5 L805.0 1857.6 L805.4 1856.7 L805.8 1855.8 L806.2 1854.8 L806.6 1853.9 L807.0 1853.0 L807.4 1852.1 L807.8 1851.1 L808.2 1850.2 L808.6 1849.3 L809.0 1848.4 L809.5 1847.5 L809.9 1846.5 L810.3 1845.6 L810.7 1844.7 L811.1 1843.8 L811.6 1842.9 L812.0 1841.9 L812.4 1841.0 L812.8 1840.1 L813.3 1839.2 L813.7 1838.3 L814.1 1837.4 L814.6 1836.5 L815.0 1835.6 L815.4 1834.7 L815.9 1833.7 L816.3 1832.8 L816.8 1831.9 L817.2 1831.0 L817.6 1830.1 L818.1 1829.2 L818.5 1828.3 L819.0 1827.4 L819.4 1826.5 L819.9 1825.6 L820.3 1824.7 L820.8 1823.8 L821.3 1822.9 L821.7 1822.0 L822.2 1821.1 L822.6 1820.3 L823.1 1819.4 L823.6 1818.5 L824.0 1817.6 L824.5 1816.7 L825.0 1815.8 L825.5 1814.9 L825.9 1814.0 L826.4 1813.2 L826.9 1812.3 L827.4 1811.4 L827.9 1810.5 L828.3 1809.6 L828.8 1808.7 L829.3 1807.9 L829.8 1807.0 L830.3 1806.1 L830.8 1805.2 L831.3 1804.4 L831.8 1803.5 L832.3 1802.6 L832.8 1801.8 L833.3 1800.9 L833.8 1800.0 L834.3 1799.2 L834.8 1798.3 L835.3 1797.4 L835.8 1796.6 L836.3 1795.7 L836.8 1794.9 L837.3 1794.0 L837.9 1793.1 L838.4 1792.3 L838.9 1791.4 L839.4 1790.6 L839.9 1789.7 L840.5 1788.9 L841.0 1788.0 L841.5 1787.2 L842.1 1786.3 L842.6 1785.5 L843.1 1784.7 L843.7 1783.8 L844.2 1783.0 L844.7 1782.1 L845.3 1781.3 L845.8 1780.5 L846.4 1779.6 L846.9 1778.8 L847.5 1778.0 L848.0 1777.1 L848.6 1776.3 L849.1 1775.5 L849.7 1774.7 L850.3 1773.8 L850.8 1773.0 L851.4 1772.2 L851.9 1771.4 L852.5 1770.6 L853.1 1769.8 L853.7 1768.9 L854.2 1768.1 L854.8 1767.3 L855.4 1766.5 L856.0 1765.7 L856.5 1764.9 L857.1 1764.1 L857.7 1763.3 L858.3 1762.5 L858.9 1761.7 L859.5 1760.9 L860.1 1760.1 L860.7 1759.3 L861.3 1758.5 L861.9 1757.7 L862.5 1756.9 L863.1 1756.1 L863.7 1755.4 L864.3 1754.6 L864.9 1753.8 L865.5 1753.0 L866.1 1752.2 L866.7 1751.5 L867.4 1750.7 L868.0 1749.9 L868.6 1749.1 L869.2 1748.4 L869.9 1747.6 L870.5 1746.8 L871.1 1746.1 L871.7 1745.3 L872.4 1744.5 L873.0 1743.8 L873.7 1743.0 L874.3 1742.3 L874.9 1741.5 L875.6 1740.8 L876.2 1740.0 L876.9 1739.3 L877.5 1738.5 L878.2 1737.8 L878.8 1737.0 L879.5 1736.3 L880.2 1735.6 L880.8 1734.8 L881.5 1734.1 L882.2 1733.3 L882.8 1732.6 L883.5 1731.9 L884.2 1731.2 L884.8 1730.4 L885.5 1729.7 L886.2 1729.0 L886.9 1728.3 L887.6 1727.5 L888.2 1726.8 L888.9 1726.1 L889.6 1725.4 L890.3 1724.7 L891.0 1724.0 L891.7 1723.3 L892.4 1722.6 L893.1 1721.9 L893.8 1721.2 L894.5 1720.5 L895.2 1719.8 L895.9 1719.1 L896.6 1718.4 L897.3 1717.7 L898.0 1717.0 L898.7 1716.3 L899.4 1715.6 L900.2 1714.9 L900.9 1714.3 L901.6 1713.6 L902.3 1712.9 L903.0 1712.2 L903.8 1711.6 L904.5 1710.9 L905.2 1710.2 L906.0 1709.5 L906.7 1708.9 L907.4 1708.2 L908.2 1707.5 L908.9 1706.9 L909.6 1706.2 L910.4 1705.6 L911.1 1704.9 L911.9 1704.3 L912.6 1703.6 L913.4 1703.0 L914.1 1702.3 L914.9 1701.7 L915.6 1701.0 L916.4 1700.4 L917.2 1699.7 L917.9 1699.1 L918.7 1698.5 L919.4 1697.8 L920.2 1697.2 L921.0 1696.6 L921.7 1695.9 L922.5 1695.3 L923.3 1694.7 L924.1 1694.1 L924.8 1693.5 L925.6 1692.8 L926.4 1692.2 L927.2 1691.6 L927.9 1691.0 L928.7 1690.4 L929.5 1689.8 L930.3 1689.2 L931.1 1688.6 L931.9 1688.0 L932.7 1687.4 L933.5 1686.8 L934.3 1686.2 L935.1 1685.6 L935.9 1685.0 L936.7 1684.4 L937.5 1683.8 L938.3 1683.2 L939.1 1682.6 L939.9 1682.0 L940.7 1681.5 L941.5 1680.9 L942.3 1680.3 L943.1 1679.7 L943.9 1679.2 L944.7 1678.6 L945.6 1678.0 L946.4 1677.5 L947.2 1676.9 L948.0 1676.3 L948.8 1675.8 L949.7 1675.2 L950.5 1674.7 L951.3 1674.1 L952.1 1673.6 L953.0 1673.0 L953.8 1672.5 L954.6 1671.9 L955.5 1671.4 L956.3 1670.8 L957.1 1670.3 L958.0 1669.7 L958.8 1669.2 L959.7 1668.7 L960.5 1668.1 L961.4 1667.6 L962.2 1667.1 L963.0 1666.6 L963.9 1666.0 L964.7 1665.5 L965.6 1665.0 L966.4 1664.5 L967.3 1664.0 L968.2 1663.4 L969.0 1662.9 L969.9 1662.4 L970.7 1661.9 L971.6 1661.4 L972.5 1660.9 L973.3 1660.4 L974.2 1659.9 L975.1 1659.4 L975.9 1658.9 L976.8 1658.4 L977.7 1657.9 L978.5 1657.4 L979.4 1656.9 L980.3 1656.5 L981.2 1656.0 L982.0 1655.5 L982.9 1655.0 L983.8 1654.5 L984.7 1654.1 L985.6 1653.6 L986.4 1653.1 L987.3 1652.7 L988.2 1652.2 L989.1 1651.7 L990.0 1651.3 L990.9 1650.8 L991.8 1650.4 L992.7 1649.9 L993.5 1649.4 L994.4 1649.0 L995.3 1648.5 L996.2 1648.1 L997.1 1647.6 L998.0 1647.2 L998.9 1646.8 L999.8 1646.3 L1000.7 1645.9 L1001.6 1645.5 L1002.5 1645.0 L1003.4 1644.6 L1004.4 1644.2 L1005.3 1643.7 L1006.2 1643.3 L1007.1 1642.9 L1008.0 1642.5 L1008.9 1642.1 L1009.8 1641.6 L1010.7 1641.2 L1011.6 1640.8 L1012.6 1640.4 L1013.5 1640.0 L1014.4 1639.6 L1015.3 1639.2 L1016.2 1638.8 L1017.2 1638.4 L1018.1 1638.0 L1019.0 1637.6 L1019.9 1637.2 L1020.9 1636.8 L1021.8 1636.4 L1022.7 1636.0 L1023.6 1635.7 L1024.6 1635.3 L1025.5 1634.9 L1026.4 1634.5 L1027.4 1634.1 L1028.3 1633.8 L1029.2 1633.4 L1030.2 1633.0 L1031.1 1632.7 L1032.0 1632.3 L1033.0 1631.9 L1033.9 1631.6 L1034.9 1631.2 L1035.8 1630.9 L1036.8 1630.5 L1037.7 1630.2 L1038.6 1629.8 L1039.6 1629.5 L1040.5 1629.1 L1041.5 1628.8 L1042.4 1628.4 L1043.4 1628.1 L1044.3 1627.8 L1045.3 1627.4 L1046.2 1627.1 L1047.2 1626.8 L1048.1 1626.4 L1049.1 1626.1 L1050.0 1625.8 L1051.0 1625.5 L1052.0 1625.2 L1052.9 1624.8 L1053.9 1624.5 L1054.8 1624.2 L1055.8 1623.9 L1056.7 1623.6 L1057.7 1623.3 L1058.7 1623.0 L1059.6 1622.7 L1060.6 1622.4 L1061.5 1622.1 L1062.5 1621.8 L1063.5 1621.5 L1064.4 1621.2 L1065.4 1620.9 L1066.4 1620.6 L1067.3 1620.3 L1068.3 1620.0 L1069.3 1619.7 L1070.2 1619.4 L1071.2 1619.2 L1072.2 1618.9 L1073.2 1618.6 L1074.1 1618.3 L1075.1 1618.1 L1076.1 1617.8 L1077.0 1617.5 L1078.0 1617.2 L1079.0 1617.0 L1080.0 1616.7 L1080.9 1616.4 L1081.9 1616.2 L1082.9 1615.9 L1083.9 1615.7 L1084.8 1615.4 L1085.8 1615.1 L1086.8 1614.9 L1087.8 1614.6 L1088.8 1614.4 L1089.7 1614.1 L1090.7 1613.9 L1091.7 1613.6 L1092.7 1613.4 L1093.7 1613.2 L1094.6 1612.9 L1095.6 1612.7 L1096.6 1612.4 L1097.6 1612.2 L1098.6 1612.0 L1099.5 1611.7 L1100.5 1611.5 L1101.5 1611.3 L1102.5 1611.0 L1103.5 1610.8 L1104.5 1610.6 L1105.5 1610.4 L1106.4 1610.1 L1107.4 1609.9 L1108.4 1609.7 L1109.4 1609.5 L1110.4 1609.3 L1111.4 1609.0 L1112.3 1608.8 L1113.3 1608.6 L1114.3 1608.4 L1115.3 1608.2 L1116.3 1608.0 L1117.3 1607.8 L1118.3 1607.6 L1119.3 1607.4 L1120.2 1607.2 L1121.2 1607.0 L1122.2 1606.8 L1123.2 1606.6 L1124.2 1606.4 L1125.2 1606.2 L1126.2 1606.0 L1127.2 1605.8 L1128.2 1605.6 L1129.1 1605.4 L1130.1 1605.2 L1131.1 1605.0 L1132.1 1604.8 L1133.1 1604.6 L1134.1 1604.4 L1135.1 1604.3 L1136.1 1604.1 L1137.0 1603.9 L1138.0 1603.7 L1139.0 1603.5 L1140.0 1603.4 L1141.0 1603.2 L1142.0 1603.0 L1143.0 1602.8 L1144.0 1602.6 L1145.0 1602.5 L1145.9 1602.3 L1146.9 1602.1 L1147.9 1602.0 L1148.9 1601.8 L1149.9 1601.6 L1150.9 1601.5 L1151.9 1601.3 L1152.9 1601.1 L1153.8 1601.0 L1154.8 1600.8 L1155.8 1600.6 L1156.8 1600.5 L1157.8 1600.3 L1158.8 1600.2 L1159.8 1600.0 L1160.8 1599.8 L1161.7 1599.7 L1162.7 1599.5 L1163.7 1599.4 L1164.7 1599.2 L1165.7 1599.1 L1166.7 1598.9 L1167.6 1598.8 L1168.6 1598.6 L1169.6 1598.5 L1170.6 1598.3 L1171.6 1598.2 L1172.6 1598.0 L1173.5 1597.9 L1174.5 1597.7 L1175.5 1597.6 L1176.5 1597.4 L1177.5 1597.3 L1178.4 1597.2 L1179.4 1597.0 L1180.4 1596.9 L1181.4 1596.7 L1182.4 1596.6 L1183.3 1596.5 L1184.3 1596.3 L1185.3 1596.2 L1186.3 1596.0 L1187.3 1595.9 L1188.2 1595.8 L1189.2 1595.6 L1190.2 1595.5 L1191.2 1595.4 L1192.1 1595.2 L1193.1 1595.1 L1194.1 1594.8 L1195.1 1594.4 L1196.0 1594.0 L1196.9 1593.5 L1197.7 1593.0 L1198.4 1592.4 L1199.2 1591.7 L1199.9 1591.0 L1200.5 1590.3 L1201.1 1589.5 L1201.7 1588.7 L1202.3 1587.8 L1202.8 1586.9 L1203.3 1586.0 L1203.8 1585.1 L1204.3 1584.1 L1204.8 1583.2 L1205.2 1582.2 L1205.7 1581.2 L1206.1 1580.2 L1206.6 1579.2 L1207.0 1578.3 L1207.4 1577.3 L1207.9 1576.3 L1208.3 1575.3 L1208.8 1574.4 L1209.3 1573.5 L1209.8 1572.6 L1210.3 1571.7 L1210.8 1570.9 L1211.4 1570.1 L1212.0 1569.3 L1212.6 1568.6 L1213.2 1567.9 L1213.9 1567.3 L1214.6 1566.7 L1215.4 1566.1 L1216.1 1565.6 L1216.9 1565.1 L1217.8 1564.7 L1218.6 1564.3 L1219.5 1564.0 L1220.4 1563.7 L1221.3 1563.4 L1222.2 1563.1 L1223.2 1562.9 L1224.1 1562.7 L1225.1 1562.6 L1226.1 1562.5 L1227.1 1562.4 L1228.2 1562.4 L1229.2 1562.4 L1230.2 1562.4 L1231.3 1562.4 L1232.4 1562.5 L1233.4 1562.6 L1234.5 1562.7 L1235.6 1562.9 L1236.6 1563.0 L1237.7 1563.2 L1238.8 1563.3 L1239.9 1563.5 L1240.9 1563.7 L1242.0 1563.9 L1243.1 1564.1 L1244.1 1564.2 L1245.2 1564.4 L1246.2 1564.5 L1247.2 1564.6 L1248.3 1564.8 L1249.3 1564.8 L1250.3 1564.9 L1251.2 1564.9 L1252.2 1564.9 L1253.2 1564.8 L1254.1 1564.7 L1255.0 1564.6 L1350.0 1564.6 L1500.0 1565.3 L1676.0 1566.0" stroke="#3333ff"/>
<path d="M260.0 1566.6 L450.0 1566.0 L451.0 1565.9 L452.0 1565.9 L453.0 1565.8 L454.0 1565.7 L455.0 1565.7 L456.0 1565.6 L457.0 1565.6 L458.0 1565.5 L459.0 1565.5 L460.0 1565.4 L461.0 1565.4 L462.0 1565.3 L463.0 1565.3 L464.0 1565.2 L465.0 1565.2 L466.0 1565.1 L467.0 1565.1 L468.0 1565.0 L469.0 1565.0 L470.0 1564.9 L471.0 1564.9 L472.0 1564.8 L473.0 1564.8 L474.0 1564.8 L475.0 1564.7 L476.0 1564.7 L477.0 1564.7 L478.0 1564.6 L479.0 1564.6 L480.0 1564.6 L481.0 1564.5 L482.0 1564.5 L483.0 1564.5 L484.0 1564.4 L485.0 1564.4 L486.0 1564.4 L487.0 1564.3 L488.0 1564.3 L489.0 1564.3 L490.0 1564.3 L491.0 1564.3 L492.0 1564.2 L493.0 1564.2 L494.0 1564.2 L495.0 1564.2 L496.0 1564.1 L497.0 1564.1 L498.0 1564.1 L499.0 1564.1 L500.0 1564.1 L501.0 1564.1 L502.0 1564.0 L503.0 1564.0 L504.0 1564.0 L505.0 1564.0 L506.0 1564.0 L507.0 1564.0 L508.0 1564.0 L509.0 1563.9 L510.1 1563.9 L511.1 1563.9 L512.1 1563.9 L513.1 1563.9 L514.1 1563.9 L515.1 1563.9 L516.1 1563.9 L517.1 1563.9 L518.1 1563.9 L519.1 1563.9 L520.1 1563.8 L521.1 1563.8 L522.1 1563.8 L523.1 1563.8 L524.1 1563.8 L525.1 1563.8 L526.1 1563.8 L527.1 1563.8 L528.2 1563.8 L529.2 1563.8 L530.2 1563.8 L531.2 1563.8 L532.2 1563.8 L533.2 1563.8 L534.2 1563.8 L535.2 1563.8 L536.2 1563.8 L537.2 1563.8 L538.2 1563.8 L539.2 1563.8 L540.2 1563.8 L541.2 1563.8 L542.2 1563.8 L543.2 1563.8 L544.3 1563.8 L545.3 1563.8 L546.3 1563.8 L547.3 1563.8 L548.3 1563.8 L549.3 1563.8 L550.3 1563.8 L551.3 1563.8 L552.3 1563.8 L553.3 1563.8 L554.3 1563.8 L555.3 1563.8 L556.3 1563.8 L557.4 1563.8 L558.4 1563.8 L559.4 1563.8 L560.4 1563.8 L561.4 1563.8 L562.4 1563.8 L563.4 1563.7 L564.4 1563.7 L565.4 1563.7 L566.4 1563.7 L567.4 1563.7 L568.4 1563.7 L569.4 1563.7 L570.4 1563.7 L571.5 1563.7 L572.5 1563.7 L573.5 1563.7 L574.5 1563.7 L575.5 1563.7 L576.5 1563.7 L577.5 1563.7 L578.5 1563.7 L579.5 1563.7 L580.5 1563.7 L581.5 1563.7 L582.5 1563.7 L583.5 1563.7 L584.6 1563.6 L585.6 1563.6 L586.6 1563.6 L587.6 1563.6 L588.6 1563.6 L589.6 1563.6 L590.6 1563.6 L591.6 1563.6 L592.6 1563.6 L593.6 1563.5 L594.6 1563.5 L595.6 1563.5 L596.6 1563.5 L597.6 1563.5 L598.6 1563.5 L599.7 1563.5 L600.7 1563.4 L601.7 1563.4 L602.7 1563.4 L603.7 1563.4 L604.7 1563.4 L605.7 1563.3 L606.7 1563.3 L607.7 1563.3 L608.7 1563.3 L609.7 1563.3 L610.7 1563.2 L611.7 1563.2 L612.7 1563.2 L613.7 1563.1 L614.7 1563.1 L615.8 1563.1 L616.8 1563.1 L617.8 1563.0 L618.8 1563.0 L619.8 1563.0 L620.8 1562.9 L621.8 1562.9 L622.8 1562.9 L623.8 1562.8 L624.8 1562.8 L625.8 1562.8 L626.8 1562.7 L627.8 1562.7 L628.8 1562.6 L629.8 1562.6 L630.8 1562.5 L631.8 1562.5 L632.8 1562.5 L633.8 1562.4 L634.8 1562.4 L635.8 1562.3 L636.8 1562.3 L637.8 1562.2 L638.9 1562.2 L639.9 1562.1 L640.9 1562.1 L641.9 1562.0 L642.9 1561.9 L643.9 1561.9 L644.9 1561.8 L645.9 1561.8 L646.9 1561.7 L647.9 1561.6 L648.9 1561.6 L649.9 1561.5 L650.9 1561.4 L651.9 1561.4 L652.9 1561.3 L653.9 1561.2 L654.9 1561.2 L655.9 1561.1 L656.9 1561.0 L657.9 1560.9 L658.9 1560.9 L659.9 1560.8 L660.9 1560.7 L661.9 1560.6 L662.9 1560.5 L663.9 1560.4 L664.9 1560.4 L665.9 1560.3 L666.9 1560.2 L667.9 1560.1 L668.9 1560.0 L669.9 1559.9 L670.9 1559.8 L671.9 1559.7 L672.9 1559.6 L673.9 1559.5 L674.9 1559.4 L675.9 1559.3 L676.9 1559.2 L677.9 1559.1 L678.9 1559.0 L679.9 1558.9 L680.9 1558.8 L681.9 1558.6 L682.9 1558.5 L683.9 1558.4 L684.8 1558.3 L685.8 1558.2 L686.8 1558.0 L687.8 1557.9 L688.8 1557.8 L689.8 1557.6 L690.8 1557.5 L691.8 1557.3 L692.8 1557.2 L693.8 1557.0 L694.7 1556.8 L695.7 1556.7 L696.7 1556.5 L697.7 1556.3 L698.6 1556.1 L699.6 1555.9 L700.6 1555.7 L701.5 1555.4 L702.5 1555.2 L703.4 1554.9 L704.4 1554.7 L705.3 1554.4 L706.3 1554.1 L707.2 1553.8 L708.1 1553.5 L709.1 1553.2 L710.0 1552.9 L710.9 1552.5 L711.8 1552.2 L712.7 1551.8 L713.6 1551.4 L714.5 1551.0 L715.4 1550.6 L716.3 1550.2 L717.2 1549.7 L718.0 1549.3 L718.9 1548.8 L719.8 1548.3 L720.6 1547.8 L721.4 1547.2 L722.3 1546.7 L723.1 1546.1 L723.9 1545.5 L724.8 1544.9 L725.6 1544.2 L726.4 1543.6 L727.1 1542.9 L727.9 1542.2 L728.7 1541.5 L728.8 1542.5 L729.0 1543.5 L729.1 1544.4 L729.3 1545.4 L729.4 1546.4 L729.5 1547.4 L729.7 1548.4 L729.8 1549.4 L730.0 1550.4 L730.1 1551.3 L730.2 1552.3 L730.3 1553.3 L730.5 1554.3 L730.6 1555.3 L730.7 1556.3 L730.9 1557.3 L731.0 1558.3 L731.1 1559.2 L731.2 1560.2 L731.4 1561.2 L731.5 1562.2 L731.6 1563.2 L731.8 1564.2 L731.9 1565.2 L732.0 1566.2 L732.1 1567.2 L732.2 1568.2 L732.4 1569.1 L732.5 1570.1 L732.6 1571.1 L732.7 1572.1 L732.9 1573.1 L733.0 1574.1 L733.1 1575.1 L733.2 1576.1 L733.3 1577.1 L733.5 1578.1 L733.6 1579.1 L733.7 1580.1 L733.8 1581.1 L734.0 1582.0 L734.1 1583.0 L734.2 1584.0 L734.3 1585.0 L734.5 1586.0 L734.6 1587.0 L734.7 1588.0 L734.8 1589.0 L735.0 1590.0 L735.1 1591.0 L735.2 1592.0 L735.3 1593.0 L735.5 1594.0 L735.6 1594.9 L735.7 1595.9 L735.9 1596.9 L736.0 1597.9 L736.1 1598.9 L736.2 1599.9 L736.4 1600.9 L736.5 1601.9 L736.6 1602.9 L736.8 1603.9 L736.9 1604.9 L737.0 1605.9 L737.2 1606.9 L737.3 1607.8 L737.5 1608.8 L737.6 1609.8 L737.7 1610.8 L737.9 1611.8 L738.0 1612.8 L738.1 1613.8 L738.3 1614.8 L738.4 1615.8 L738.6 1616.8 L738.7 1617.7 L738.9 1618.7 L739.0 1619.7 L739.2 1620.7 L739.3 1621.7 L739.4 1622.7 L739.6 1623.7 L739.7 1624.7 L739.9 1625.7 L740.0 1626.6 L740.2 1627.6 L740.4 1628.6 L740.5 1629.6 L740.7 1630.6 L740.8 1631.6 L741.0 1632.6 L741.1 1633.6 L741.3 1634.5 L741.5 1635.5 L741.6 1636.5 L741.8 1637.5 L742.0 1638.5 L742.1 1639.5 L742.3 1640.5 L742.5 1641.4 L742.6 1642.4 L742.8 1643.4 L743.0 1644.4 L743.1 1645.4 L743.3 1646.4 L743.5 1647.3 L743.7 1648.3 L743.8 1649.3 L744.0 1650.3 L744.2 1651.3 L744.4 1652.2 L744.6 1653.2 L744.7 1654.2 L744.9 1655.2 L745.1 1656.2 L745.3 1657.1 L745.5 1658.1 L745.7 1659.1 L745.9 1660.1 L746.1 1661.1 L746.3 1662.0 L746.5 1663.0 L746.7 1664.0 L746.9 1665.0 L747.1 1665.9 L747.3 1666.9 L747.5 1667.9 L747.7 1668.9 L747.9 1669.8 L748.1 1670.8 L748.3 1671.8 L748.5 1672.8 L748.8 1673.7 L749.0 1674.7 L749.2 1675.7 L749.4 1676.6 L749.6 1677.6 L749.9 1678.6 L750.1 1679.5 L750.3 1680.5 L750.5 1681.5 L750.8 1682.4 L751.0 1683.4 L751.2 1684.4 L751.5 1685.3 L751.7 1686.3 L752.0 1687.3 L752.2 1688.2 L752.4 1689.2 L752.7 1690.2 L752.9 1691.1 L753.2 1692.1 L753.4 1693.1 L753.7 1694.0 L753.9 1695.0 L754.2 1695.9 L754.5 1696.9 L754.7 1697.9 L755.0 1698.8 L755.2 1699.8 L755.5 1700.7 L755.8 1701.7 L756.0 1702.7 L756.3 1703.6 L756.6 1704.6 L756.9 1705.5 L757.1 1706.5 L757.4 1707.4 L757.7 1708.4 L758.0 1709.3 L758.3 1710.3 L758.6 1711.3 L758.8 1712.2 L759.1 1713.2 L759.4 1714.1 L759.7 1715.1 L760.0 1716.0 L760.3 1717.0 L760.6 1717.9 L760.9 1718.9 L761.2 1719.8 L761.5 1720.8 L761.8 1721.8 L762.2 1722.7 L762.5 1723.7 L762.8 1724.6 L763.1 1725.6 L763.4 1726.5 L763.7 1727.5 L764.1 1728.4 L764.4 1729.4 L764.7 1730.3 L765.0 1731.3 L765.4 1732.2 L765.7 1733.2 L766.0 1734.1 L766.4 1735.1 L766.7 1736.0 L767.0 1737.0 L767.4 1737.9 L767.7 1738.9 L768.1 1739.8 L768.4 1740.8 L768.8 1741.7 L769.1 1742.7 L769.5 1743.6 L769.8 1744.6 L770.2 1745.5 L770.6 1746.5 L770.9 1747.4 L771.3 1748.4 L771.6 1749.4 L772.0 1750.3 L772.4 1751.3 L772.8 1752.2 L773.1 1753.2 L773.5 1754.1 L773.9 1755.1 L774.3 1756.0 L774.7 1757.0 L775.0 1757.9 L775.4 1758.8 L775.8 1759.8 L776.2 1760.7 L776.6 1761.7 L777.0 1762.6 L777.4 1763.6 L777.8 1764.5 L778.2 1765.5 L778.6 1766.4 L779.0 1767.3 L779.5 1768.3 L779.9 1769.2 L780.3 1770.1 L780.7 1771.1 L781.1 1772.0 L781.6 1772.9 L782.0 1773.9 L782.4 1774.8 L782.9 1775.7 L783.3 1776.7 L783.8 1777.6 L784.2 1778.5 L784.7 1779.4 L785.1 1780.3 L785.6 1781.2 L786.0 1782.2 L786.5 1783.1 L786.9 1784.0 L787.4 1784.9 L787.9 1785.8 L788.4 1786.7 L788.8 1787.6 L789.3 1788.5 L789.8 1789.4 L790.3 1790.3" stroke="#3333ff" stroke-dasharray="15 18.85" stroke-dashoffset="0.00" stroke-linecap="round"/>
<path d="M790.3 1790.3 L790.8 1791.2 L791.3 1792.1 L791.8 1792.9 L792.3 1793.8 L792.8 1794.7 L793.3 1795.6 L793.8 1796.5 L794.3 1797.3 L794.8 1798.2 L795.4 1799.1 L795.9 1799.9 L796.4 1800.8 L797.0 1801.6 L797.5 1802.5 L798.0 1803.3 L798.6 1804.2 L799.1 1805.0 L799.7 1805.9 L800.3 1806.7 L800.8 1807.5 L801.4 1808.3 L802.0 1809.2 L802.5 1810.0 L803.1 1810.8 L803.7 1811.6 L804.3 1812.4 L804.9 1813.2 L805.5 1814.0 L806.1 1814.8 L806.7 1815.6 L807.3 1816.4 L807.9 1817.2 L808.5 1818.0 L809.1 1818.7 L809.8 1819.5 L810.4 1820.3 L811.0 1821.0 L811.7 1821.8 L812.3 1822.5 L812.9 1823.3 L813.6 1824.0 L814.3 1824.7 L814.9 1825.5 L815.6 1826.2 L816.3 1826.9 L816.9 1827.6 L817.6 1828.3 L818.3 1829.1 L819.0 1829.8 L819.7 1830.4 L820.4 1831.1 L821.1 1831.8 L821.8 1832.5 L822.5 1833.2 L823.2 1833.8 L824.0 1834.5 L824.7 1835.2 L825.4 1835.8 L826.2 1836.5 L826.9 1837.1 L827.7 1837.7 L828.4 1838.4 L829.2 1839.0 L829.9 1839.6 L830.7 1840.2 L831.5 1840.8 L832.3 1841.4 L833.0 1842.0 L833.8 1842.6 L834.6 1843.2 L835.4 1843.8 L836.2 1844.3 L837.0 1844.9 L837.8 1845.5 L838.6 1846.0 L839.5 1846.6 L840.3 1847.1 L841.1 1847.6 L841.9 1848.2 L842.8 1848.7 L843.6 1849.2 L844.4 1849.7 L845.3 1850.2 L846.1 1850.7 L847.0 1851.2 L847.8 1851.7 L848.7 1852.2 L849.5 1852.7 L850.4 1853.2 L851.3 1853.6 L852.1 1854.1 L853.0 1854.6 L853.9 1855.0 L854.8 1855.5 L855.7 1855.9 L856.6 1856.3 L857.4 1856.8 L858.3 1857.2 L859.2 1857.6 L860.1 1858.0 L861.0 1858.4 L861.9 1858.8 L862.8 1859.2 L863.8 1859.6 L864.7 1860.0 L865.6 1860.4 L866.5 1860.7 L867.4 1861.1 L868.4 1861.4 L869.3 1861.8 L870.2 1862.1 L871.1 1862.5 L872.1 1862.8 L873.0 1863.2 L873.9 1863.5 L874.9 1863.8 L875.8 1864.1 L876.8 1864.4 L877.7 1864.7 L878.7 1865.0 L879.6 1865.3 L880.6 1865.6 L881.5 1865.9 L882.5 1866.1 L883.5 1866.4 L884.4 1866.7 L885.4 1866.9 L886.3 1867.2 L887.3 1867.4 L888.3 1867.6 L889.2 1867.9 L890.2 1868.1 L891.2 1868.3 L892.2 1868.5 L893.1 1868.7 L894.1 1868.9 L895.1 1869.1 L896.1 1869.3 L897.0 1869.5 L898.0 1869.7 L899.0 1869.8 L900.0 1870.0 L901.0 1870.2 L902.0 1870.3 L902.9 1870.5 L903.9 1870.6 L904.9 1870.7 L905.9 1870.9 L906.9 1871.0 L907.9 1871.1 L908.9 1871.2 L909.9 1871.3 L910.9 1871.4 L911.9 1871.5 L912.9 1871.6 L913.8 1871.7 L914.8 1871.7 L915.8 1871.8 L916.8 1871.9 L917.8 1871.9 L918.8 1872.0 L919.8 1872.0 L920.8 1872.1 L921.8 1872.1 L922.8 1872.1 L923.8 1872.2 L924.8 1872.2 L925.8 1872.2 L926.8 1872.2 L927.8 1872.2 L928.8 1872.2 L929.8 1872.2 L930.8 1872.2 L931.8 1872.2 L932.8 1872.1 L933.8 1872.1 L934.8 1872.1 L935.8 1872.0 L936.8 1872.0 L937.8 1871.9 L938.8 1871.9 L939.8 1871.8 L940.8 1871.8 L941.8 1871.7 L942.8 1871.6 L943.8 1871.6 L944.8 1871.5 L945.8 1871.4 L946.8 1871.3 L947.8 1871.2 L948.8 1871.1 L949.8 1871.0 L950.8 1870.9 L951.8 1870.8 L952.8 1870.7 L953.8 1870.6 L954.8 1870.5 L955.8 1870.4 L956.8 1870.2 L957.8 1870.1 L958.8 1870.0 L959.8 1869.9 L960.8 1869.7 L961.8 1869.6 L962.8 1869.4 L963.8 1869.3 L964.8 1869.1 L965.9 1869.0 L966.9 1868.8 L967.9 1868.6 L968.9 1868.5 L969.9 1868.3 L970.9 1868.1 L971.9 1868.0 L972.9 1867.8 L973.9 1867.6 L974.9 1867.4 L975.9 1867.3 L976.9 1867.1 L977.9 1866.9 L978.9 1866.7 L979.9 1866.5 L980.9 1866.3 L981.9 1866.1 L982.9 1865.9 L983.9 1865.7 L984.9 1865.5 L985.8 1865.3 L986.8 1865.1 L987.8 1864.9 L988.8 1864.7 L989.8 1864.4 L990.8 1864.2 L991.8 1864.0 L992.8 1863.8 L993.8 1863.6 L994.8 1863.4 L995.8 1863.1 L996.8 1862.9 L997.8 1862.7 L998.8 1862.5 L999.8 1862.2 L1000.8 1862.0 L1001.8 1861.8 L1002.7 1861.5 L1003.7 1861.3 L1004.7 1861.1 L1005.7 1860.8 L1006.7 1860.6 L1007.7 1860.4 L1008.7 1860.1 L1009.7 1859.9 L1010.7 1859.6 L1011.6 1859.4 L1012.6 1859.2 L1013.6 1858.9 L1014.6 1858.7 L1015.6 1858.4 L1016.6 1858.2 L1017.5 1858.0 L1018.5 1857.7 L1019.5 1857.5 L1020.5 1857.2 L1021.5 1857.0 L1022.4 1856.7 L1023.4 1856.5 L1024.4 1856.2 L1025.4 1856.0 L1026.3 1855.8 L1027.3 1855.5 L1028.3 1855.3 L1029.3 1855.0 L1030.3 1854.8 L1031.2 1854.5 L1032.2 1854.3 L1033.2 1854.0 L1034.1 1853.8 L1035.1 1853.5 L1036.1 1853.3 L1037.1 1853.0 L1038.0 1852.8 L1039.0 1852.5 L1040.0 1852.3 L1040.9 1852.0 L1041.9 1851.8 L1042.9 1851.5 L1043.8 1851.2 L1044.8 1851.0 L1045.8 1850.7 L1046.7 1850.5 L1047.7 1850.2 L1048.7 1850.0 L1049.6 1849.7 L1050.6 1849.5 L1051.6 1849.2 L1052.5 1848.9 L1053.5 1848.7 L1054.5 1848.4 L1055.4 1848.2 L1056.4 1847.9 L1057.4 1847.6 L1058.3 1847.4 L1059.3 1847.1 L1060.2 1846.9 L1061.2 1846.6 L1062.2 1846.3 L1063.1 1846.1 L1064.1 1845.8 L1065.0 1845.5 L1066.0 1845.3 L1067.0 1845.0 L1067.9 1844.7 L1068.9 1844.5 L1069.8 1844.2 L1070.8 1843.9 L1071.7 1843.7 L1072.7 1843.4 L1073.7 1843.1 L1074.6 1842.9 L1075.6 1842.6 L1076.5 1842.3 L1077.5 1842.1 L1078.4 1841.8 L1079.4 1841.5 L1080.4 1841.3 L1081.3 1841.0 L1082.3 1840.7 L1083.2 1840.4 L1084.2 1840.2 L1085.1 1839.9 L1086.1 1839.6 L1087.0 1839.3 L1088.0 1839.1 L1088.9 1838.8 L1089.9 1838.5 L1090.9 1838.3 L1091.8 1838.0 L1092.8 1837.7 L1093.7 1837.4 L1094.7 1837.1 L1095.6 1836.9 L1096.6 1836.6 L1097.5 1836.3 L1098.5 1836.0 L1099.4 1835.8 L1100.4 1835.5 L1101.3 1835.2 L1102.3 1834.9 L1103.2 1834.6 L1104.2 1834.3 L1105.1 1834.1 L1106.1 1833.8 L1107.0 1833.5 L1108.0 1833.2 L1108.9 1832.9 L1109.9 1832.6 L1110.8 1832.4 L1111.8 1832.1 L1112.8 1831.8 L1113.7 1831.5 L1114.7 1831.2 L1115.6 1830.9 L1116.6 1830.6 L1117.5 1830.4 L1118.5 1830.1 L1119.4 1829.8 L1120.4 1829.5 L1121.3 1829.2 L1122.3 1828.9 L1123.2 1828.6 L1124.2 1828.3 L1125.1 1828.0 L1126.1 1827.8 L1127.0 1827.5 L1128.0 1827.2 L1128.9 1826.9 L1129.9 1826.6 L1130.8 1826.3 L1131.8 1826.0 L1132.7 1825.7 L1133.7 1825.4 L1134.6 1825.1 L1135.6 1824.8 L1136.5 1824.5 L1137.5 1824.2 L1138.5 1823.9 L1139.4 1823.6 L1140.4 1823.3 L1141.3 1823.0 L1142.3 1822.7 L1143.2 1822.4 L1144.2 1822.1 L1145.1 1821.8 L1146.1 1821.5 L1147.0 1821.2 L1148.0 1820.9 L1148.9 1820.6 L1149.9 1820.3 L1150.9 1820.0 L1151.8 1819.7 L1152.8 1819.4 L1153.7 1819.1 L1154.7 1818.8 L1155.6 1818.5 L1156.6 1818.2 L1157.5 1817.9 L1158.5 1817.6 L1159.5 1817.3 L1160.4 1817.0 L1161.4 1816.7 L1162.3 1816.4 L1163.3 1816.1 L1164.3 1815.8 L1165.2 1815.4 L1166.2 1815.1 L1167.1 1814.8 L1168.1 1814.5 L1169.1 1814.2 L1170.0 1813.9 L1171.0 1813.6 L1171.9 1813.3 L1172.9 1813.0 L1173.9 1812.6 L1174.8 1812.3 L1175.8 1812.0 L1176.7 1811.7 L1177.7 1811.4 L1178.7 1811.1 L1179.6 1810.8 L1180.6 1810.4 L1181.6 1810.1 L1182.5 1809.8 L1183.5 1809.5 L1184.4 1808.9 L1185.3 1808.3 L1186.1 1807.7 L1186.9 1807.1 L1187.7 1806.4 L1188.5 1805.7 L1189.2 1805.1 L1189.9 1804.4 L1190.6 1803.7 L1191.3 1802.9 L1191.9 1802.2 L1192.5 1801.5 L1193.1 1800.7 L1193.7 1799.9 L1194.2 1799.1 L1194.8 1798.3 L1195.3 1797.5 L1195.8 1796.7 L1196.2 1795.9 L1196.7 1795.0 L1197.1 1794.2 L1197.5 1793.3 L1197.9 1792.5 L1198.3 1791.6 L1198.6 1790.7 L1199.0 1789.8 L1199.3 1788.9 L1199.6 1788.0 L1199.9 1787.0 L1200.2 1786.1 L1200.4 1785.2 L1200.7 1784.2 L1200.9 1783.3 L1201.2 1782.3 L1201.4 1781.4 L1201.6 1780.4 L1201.8 1779.4 L1202.0 1778.4 L1202.1 1777.4 L1202.3 1776.5 L1202.5 1775.5 L1202.6 1774.5 L1202.8 1773.5 L1202.9 1772.5 L1203.0 1771.4 L1203.2 1770.4 L1203.3 1769.4 L1203.4 1768.4 L1203.5 1767.4 L1203.6 1766.4 L1203.7 1765.3 L1203.8 1764.3 L1203.9 1763.3 L1204.0 1762.3 L1204.1 1761.2 L1204.2 1760.2 L1204.3 1759.2 L1204.3 1758.2 L1204.4 1757.1 L1204.5 1756.1 L1204.6 1755.1 L1204.7 1754.1 L1204.8 1753.1 L1204.9 1752.0 L1205.0 1751.0 L1205.1 1750.0 L1205.2 1749.0 L1205.3 1748.0 L1205.4 1747.0 L1205.5 1745.9 L1205.6 1744.9 L1205.7 1743.9 L1205.7 1742.9 L1205.8 1741.9 L1205.9 1740.9 L1206.0 1739.9 L1206.1 1738.9 L1206.2 1737.8 L1206.3 1736.8 L1206.4 1735.8 L1206.5 1734.8 L1206.6 1733.8 L1206.7 1732.8 L1206.8 1731.8 L1206.9 1730.8 L1207.0 1729.8 L1207.1 1728.8 L1207.2 1727.8 L1207.3 1726.8 L1207.4 1725.8 L1207.5 1724.8 L1207.6 1723.8 L1207.7 1722.8 L1207.8 1721.8 L1207.9 1720.8 L1208.0 1719.8 L1208.1 1718.8 L1208.2 1717.8 L1208.3 1716.8 L1208.4 1715.8 L1208.5 1714.8 L1208.6 1713.8 L1208.7 1712.8 L1208.7 1711.8 L1208.8 1710.8 L1208.9 1709.8 L1209.0 1708.8 L1209.1 1707.8 L1209.2 1706.8 L1209.3 1705.8 L1209.4 1704.8 L1209.5 1703.8 L1209.6 1702.8 L1209.7 1701.8 L1209.8 1700.8 L1209.9 1699.8 L1210.0 1698.8 L1210.0 1697.9 L1210.1 1696.9 L1210.2 1695.9 L1210.3 1694.9 L1210.4 1693.9 L1210.5 1692.9 L1210.6 1691.9 L1210.7 1690.9 L1210.8 1689.9 L1210.8 1688.9 L1210.9 1687.9 L1211.0 1686.9 L1211.1 1685.9 L1211.2 1684.9 L1211.3 1683.9 L1211.3 1682.9 L1211.4 1681.9 L1211.5 1680.9 L1211.6 1680.0 L1211.7 1679.0 L1211.8 1678.0 L1211.9 1677.0 L1212.0 1676.0 L1212.0 1675.0 L1212.1 1674.0 L1212.2 1673.0 L1212.3 1672.0 L1212.4 1671.0 L1212.5 1670.0 L1212.6 1669.0 L1212.7 1668.0 L1212.8 1667.0 L1212.9 1666.0 L1213.0 1665.0 L1213.1 1664.1 L1213.2 1663.1 L1213.3 1662.1 L1213.5 1661.1 L1213.6 1660.1 L1213.7 1659.1 L1213.8 1658.1 L1213.9 1657.1 L1214.1 1656.1 L1214.2 1655.1 L1214.3 1654.1 L1214.5 1653.1 L1214.6 1652.2 L1214.7 1651.2 L1214.9 1650.2 L1215.0 1649.2 L1215.2 1648.2 L1215.3 1647.2 L1215.5 1646.2 L1215.7 1645.2 L1215.8 1644.2 L1216.0 1643.3 L1216.2 1642.3 L1216.4 1641.3 L1216.5 1640.3 L1216.7 1639.3 L1216.9 1638.3 L1217.1 1637.3 L1217.3 1636.4 L1217.5 1635.4 L1217.7 1634.4 L1218.0 1633.4 L1218.2 1632.4 L1218.4 1631.4 L1218.6 1630.5 L1218.9 1629.5 L1219.1 1628.5 L1219.4 1627.5 L1219.6 1626.5 L1219.9 1625.5 L1220.2 1624.6 L1220.4 1623.6 L1220.7 1622.6 L1221.0 1621.6 L1221.3 1620.7 L1221.6 1619.7 L1221.9 1618.7 L1222.3 1617.8 L1222.6 1616.8 L1222.9 1615.8 L1223.3 1614.9 L1223.6 1613.9 L1224.0 1613.0 L1224.3 1612.0 L1224.7 1611.1 L1225.1 1610.2 L1225.5 1609.2 L1225.9 1608.3 L1226.3 1607.4 L1226.8 1606.5 L1227.2 1605.6 L1227.7 1604.7 L1228.1 1603.8 L1228.6 1602.9 L1229.1 1602.1 L1229.6 1601.2 L1230.1 1600.4 L1230.6 1599.5 L1231.1 1598.7 L1231.7 1597.9 L1232.2 1597.1 L1232.8 1596.3 L1233.4 1595.5 L1234.0 1594.7 L1234.6 1593.9 L1235.2 1593.2 L1235.8 1592.5 L1236.5 1591.8 L1237.2 1591.1 L1237.8 1590.4 L1238.5 1589.7 L1239.2 1589.0 L1240.0 1588.4 L1240.7 1587.8 L1241.4 1587.2 L1242.2 1586.6 L1243.0 1586.0 L1243.8 1585.5 L1244.6 1585.0 L1245.4 1584.5 L1246.2 1584.0 L1247.1 1583.5 L1248.0 1583.1 L1248.8 1582.6 L1249.7 1582.2 L1250.7 1581.9 L1251.6 1581.5 L1252.5 1581.2 L1253.5 1580.9 L1254.5 1580.6 L1255.5 1580.3 L1256.5 1580.1 L1257.5 1579.9 L1258.5 1579.7 L1259.6 1579.6 L1260.7 1579.5 L1261.8 1579.4 L1262.9 1579.3 L1264.0 1579.3 L1297.5 1576.0 L1331.5 1574.0 L1365.5 1573.2 L1398.5 1572.6 L1432.5 1571.8 L1466.0 1571.2 L1500.0 1570.7 L1676.0 1569.5" stroke="#3333ff" stroke-dasharray="15 18.68" stroke-dashoffset="19.96" stroke-linecap="round"/>
</g>
<g stroke-width="4.4" stroke-linecap="round" shape-rendering="crispEdges"><line x1="794.2" y1="2092.0" x2="1065.8" y2="2092.0" stroke="#cc0000"/>
<line x1="794.2" y1="2182.5" x2="1065.8" y2="2182.5" stroke="#3333ff"/>
<line x1="794.2" y1="2273.0" x2="1065.8" y2="2273.0" stroke="#3333ff" stroke-dasharray="15 18.8"/></g>
<g fill="#000" stroke="#000" stroke-width="8" stroke-linecap="round"><g stroke="none" shape-rendering="crispEdges"><rect x="264.0" y="1508" width="17" height="2"/>
<rect x="1658.0" y="1508" width="14" height="2"/>
<rect x="264.0" y="1627" width="17" height="2"/>
<rect x="1658.0" y="1627" width="14" height="2"/>
<rect x="264.0" y="1687" width="17" height="2"/>
<rect x="1658.0" y="1687" width="14" height="2"/>
<rect x="264.0" y="1747" width="17" height="2"/>
<rect x="1658.0" y="1747" width="14" height="2"/>
<rect x="264.0" y="1866" width="17" height="2"/>
<rect x="1658.0" y="1866" width="14" height="2"/>
<rect x="264.0" y="1926" width="17" height="2"/>
<rect x="1658.0" y="1926" width="14" height="2"/>
<rect x="264.0" y="1986" width="17" height="2"/>
<rect x="1658.0" y="1986" width="14" height="2"/>
<rect x="264.0" y="2105" width="17" height="2"/>
<rect x="1658.0" y="2105" width="14" height="2"/>
<rect x="264.0" y="2165" width="17" height="2"/>
<rect x="1658.0" y="2165" width="14" height="2"/>
<rect x="264.0" y="2225" width="17" height="2"/>
<rect x="1658.0" y="2225" width="14" height="2"/>
<rect x="264.0" y="2344" width="17" height="2"/>
<rect x="1658.0" y="2344" width="14" height="2"/>
<rect x="264.0" y="2404" width="17" height="2"/>
<rect x="1658.0" y="2404" width="14" height="2"/>
<rect x="264.0" y="2464" width="17" height="2"/>
<rect x="1658.0" y="2464" width="14" height="2"/>
<rect x="306" y="2502.0" width="2" height="15"/>
<rect x="354" y="2502.0" width="2" height="15"/>
<rect x="401" y="2502.0" width="2" height="15"/>
<rect x="448" y="2502.0" width="2" height="15"/>
<rect x="543" y="2502.0" width="2" height="15"/>
<rect x="590" y="2502.0" width="2" height="15"/>
<rect x="637" y="2502.0" width="2" height="15"/>
<rect x="685" y="2502.0" width="2" height="15"/>
<rect x="779" y="2502.0" width="2" height="15"/>
<rect x="827" y="2502.0" width="2" height="15"/>
<rect x="874" y="2502.0" width="2" height="15"/>
<rect x="921" y="2502.0" width="2" height="15"/>
<rect x="1016" y="2502.0" width="2" height="15"/>
<rect x="1063" y="2502.0" width="2" height="15"/>
<rect x="1110" y="2502.0" width="2" height="15"/>
<rect x="1158" y="2502.0" width="2" height="15"/>
<rect x="1252" y="2502.0" width="2" height="15"/>
<rect x="1299" y="2502.0" width="2" height="15"/>
<rect x="1347" y="2502.0" width="2" height="15"/>
<rect x="1394" y="2502.0" width="2" height="15"/>
<rect x="1489" y="2502.0" width="2" height="15"/>
<rect x="1536" y="2502.0" width="2" height="15"/>
<rect x="1583" y="2502.0" width="2" height="15"/>
<rect x="1630" y="2502.0" width="2" height="15"/>
<rect x="256.0" y="1445.0" width="8" height="1082.0"/>
<rect x="1672.0" y="1445.0" width="8" height="1082.0"/>
<rect x="256.0" y="1445.0" width="1424.0" height="8"/>
<rect x="256.0" y="2517.0" width="1424.0" height="10.0"/></g><line x1="260.0" y1="1568.5" x2="294.0" y2="1568.5"/>
<line x1="1679.0" y1="1568.5" x2="1645.0" y2="1568.5"/>
<line x1="260.0" y1="1807.5" x2="294.0" y2="1807.5"/>
<line x1="1679.0" y1="1807.5" x2="1645.0" y2="1807.5"/>
<line x1="260.0" y1="2046.5" x2="294.0" y2="2046.5"/>
<line x1="1679.0" y1="2046.5" x2="1645.0" y2="2046.5"/>
<line x1="260.0" y1="2285.5" x2="294.0" y2="2285.5"/>
<line x1="1679.0" y1="2285.5" x2="1645.0" y2="2285.5"/>
<line x1="496.6" y1="2519.0" x2="496.6" y2="2490.0"/>
<line x1="733.0" y1="2519.0" x2="733.0" y2="2490.0"/>
<line x1="969.4" y1="2519.0" x2="969.4" y2="2490.0"/>
<line x1="1205.8" y1="2519.0" x2="1205.8" y2="2490.0"/>
<line x1="1442.2" y1="2519.0" x2="1442.2" y2="2490.0"/>
<line x1="1678.7" y1="2519.0" x2="1678.7" y2="2490.0"/></g>
<g fill="#000" filter="url(#bin)"><text x="1092.5" y="788.1" font-size="60.5">Equilibrium</text>
<text x="1092.5" y="878.3" font-size="60.5">Forward pressure bias</text>
<text x="1092.5" y="968.5" font-size="60.5">Reverse pressure bias</text>
<g font-size="62.3"><text x="254.5" y="77.0" text-anchor="end">0.2</text>
<text x="1711.0" y="77.0">0.2</text>
<text x="254.5" y="256.0" text-anchor="end">0.1</text>
<text x="1711.0" y="256.0">0.1</text>
<text x="254.5" y="435.0" text-anchor="end">0</text>
<text x="1711.0" y="435.0">0</text>
<text x="254.5" y="614.0" text-anchor="end">-0.1</text>
<text x="1711.0" y="614.0">-0.1</text>
<text x="254.5" y="793.0" text-anchor="end">-0.2</text>
<text x="1711.0" y="793.0">-0.2</text>
<text x="254.5" y="972.0" text-anchor="end">-0.3</text>
<text x="1711.0" y="972.0">-0.3</text>
<text x="254.5" y="1151.0" text-anchor="end">-0.4</text>
<text x="1711.0" y="1151.0">-0.4</text>
<text x="273.4" y="1187.7" text-anchor="middle">0</text>
<text x="509.8" y="1187.7" text-anchor="middle">1</text>
<text x="746.2" y="1187.7" text-anchor="middle">2</text>
<text x="982.6" y="1187.7" text-anchor="middle">3</text>
<text x="1219.0" y="1187.7" text-anchor="middle">4</text>
<text x="1455.4" y="1187.7" text-anchor="middle">5</text>
<text x="1691.9" y="1187.7" text-anchor="middle">6</text></g>
<text x="804.4" y="1049" font-size="69">c<tspan font-size="40" dy="20" dx="-3">0</tspan><tspan dy="-20" dx="-0.9">=</tspan><tspan dx="2">1</tspan><tspan dx="-3.7">m</tspan><tspan dx="-2.3">M</tspan></text>
<text x="806" y="1266.3" font-size="77.8" textLength="349" lengthAdjust="spacingAndGlyphs">z-axis (μm)</text>
<text transform="translate(120.8,595) rotate(-90)" text-anchor="middle" font-size="78" textLength="637" lengthAdjust="spacingAndGlyphs">Electric potential (V)</text>
<text x="904" y="1405.8" font-size="86" text-anchor="middle">(<tspan font-weight="bold">a</tspan>)</text>
<text x="1110.5" y="2110.2" font-size="60.5">Equilibrium</text>
<text x="1110.5" y="2200.7" font-size="60.5">Forward pressure bias</text>
<text x="1110.5" y="2291.2" font-size="60.5">Reverse pressure bias</text>
<g font-size="62.3"><text x="241.5" y="1588.5" text-anchor="end">0</text>
<text x="1698.0" y="1588.5">0</text>
<text x="241.5" y="1827.5" text-anchor="end">-0.2</text>
<text x="1698.0" y="1827.5">-0.2</text>
<text x="241.5" y="2066.5" text-anchor="end">-0.4</text>
<text x="1698.0" y="2066.5">-0.4</text>
<text x="241.5" y="2305.5" text-anchor="end">-0.6</text>
<text x="1698.0" y="2305.5">-0.6</text>
<text x="241.5" y="2544.5" text-anchor="end">-0.8</text>
<text x="1698.0" y="2544.5">-0.8</text>
<text x="260.2" y="2581.2" text-anchor="middle">0</text>
<text x="496.6" y="2581.2" text-anchor="middle">1</text>
<text x="733.0" y="2581.2" text-anchor="middle">2</text>
<text x="969.4" y="2581.2" text-anchor="middle">3</text>
<text x="1205.8" y="2581.2" text-anchor="middle">4</text>
<text x="1442.2" y="2581.2" text-anchor="middle">5</text>
<text x="1678.7" y="2581.2" text-anchor="middle">6</text></g>
<text x="796.2" y="2408" font-size="69">c<tspan font-size="40" dy="20" dx="-3.1">0</tspan><tspan dy="-20" dx="-0.8">=</tspan><tspan dx="-0.1">0</tspan><tspan dx="-1.3">.</tspan><tspan dx="3.4">1</tspan><tspan dx="-3.7">m</tspan><tspan dx="-2.1">M</tspan></text>
<text x="793.5" y="2658.5" font-size="77.8" textLength="349" lengthAdjust="spacingAndGlyphs">z-axis (μm)</text>
<text transform="translate(108.5,1987.4) rotate(-90)" text-anchor="middle" font-size="78" textLength="637" lengthAdjust="spacingAndGlyphs">Electric potential (V)</text>
<text x="904" y="2799" font-size="86" text-anchor="middle">(<tspan font-weight="bold">b</tspan>)</text></g>
</svg>
</body></html>
